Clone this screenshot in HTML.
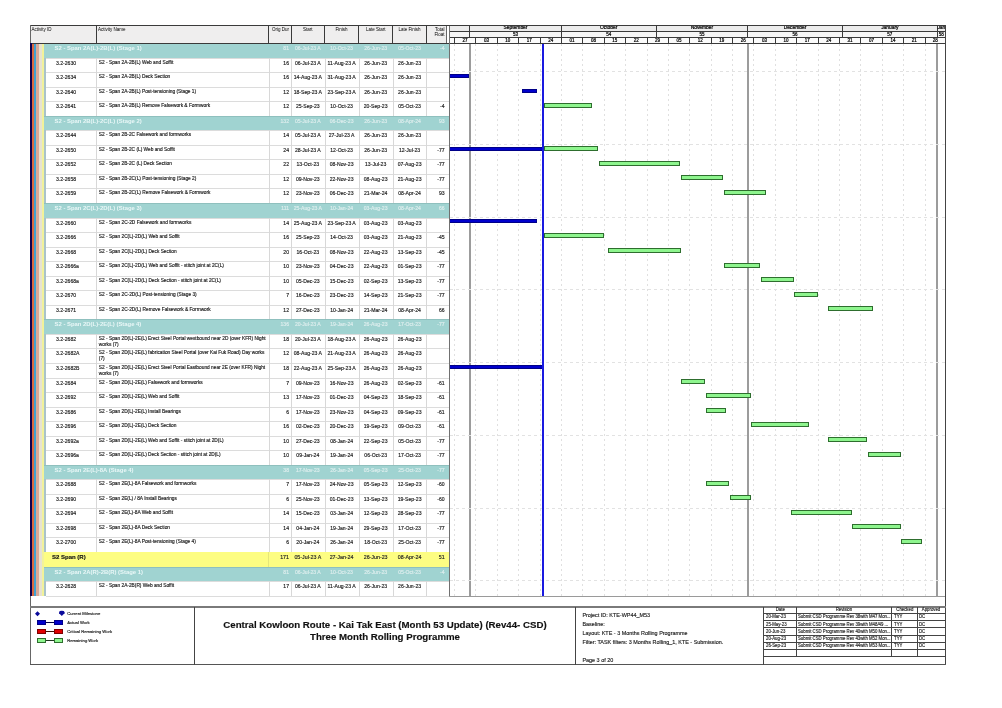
<!DOCTYPE html>
<html><head><meta charset="utf-8"><style>
html,body{margin:0;padding:0;background:#fff}
body{width:1002px;height:708px;position:relative;overflow:hidden;font-family:"Liberation Sans",sans-serif}
#w{position:absolute;left:0;top:0;width:1002px;height:708px;will-change:transform}
div{position:absolute}
.t{white-space:nowrap;-webkit-text-stroke:0.15px currentColor}
.dv{width:1px;background:repeating-linear-gradient(to bottom,#e0e0e0 0,#e0e0e0 2px,transparent 2px,transparent 5px)}
.dh{height:1px;background:repeating-linear-gradient(to right,#e2e2e2 0,#e2e2e2 3px,transparent 3px,transparent 6px)}
</style></head><body>
<div id="w"><div style="left:30.00px;top:25.00px;width:416.60px;height:18.00px;background:#efeeee"></div>
<div style="left:449.20px;top:25.00px;width:496.30px;height:6.00px;background:#ececec"></div>
<div style="left:449.20px;top:31.00px;width:496.30px;height:6.00px;background:#f6f6f6"></div>
<div style="left:449.20px;top:37.00px;width:496.30px;height:6.00px;background:#fbfbfb"></div>
<div class="t" style="left:31.50px;top:27.00px;font-size:4.5px;line-height:5.6px;color:#000;-webkit-text-stroke:0">Activity ID</div>
<div class="t" style="left:98.00px;top:27.00px;font-size:4.5px;line-height:5.6px;color:#000;-webkit-text-stroke:0">Activity Name</div>
<div class="t" style="left:268.70px;top:27.00px;width:20.30px;text-align:right;font-size:4.5px;line-height:5.6px;color:#000;-webkit-text-stroke:0">Orig Dur</div>
<div class="t" style="left:291.00px;top:27.00px;width:33.60px;text-align:center;font-size:4.5px;line-height:5.6px;color:#000;-webkit-text-stroke:0">Start</div>
<div class="t" style="left:324.60px;top:27.00px;width:34.00px;text-align:center;font-size:4.5px;line-height:5.6px;color:#000;-webkit-text-stroke:0">Finish</div>
<div class="t" style="left:358.60px;top:27.00px;width:34.10px;text-align:center;font-size:4.5px;line-height:5.6px;color:#000;-webkit-text-stroke:0">Late Start</div>
<div class="t" style="left:392.70px;top:27.00px;width:33.80px;text-align:center;font-size:4.5px;line-height:5.6px;color:#000;-webkit-text-stroke:0">Late Finish</div>
<div class="t" style="left:426.50px;top:26.60px;width:18.10px;text-align:right;font-size:4.5px;line-height:5.6px;color:#000;-webkit-text-stroke:0">Total<br>Float</div>
<div style="left:44.00px;top:43.00px;width:405.20px;height:15.00px;background:#a0d3d1;border-top:1px solid #8fc0be;box-sizing:border-box"></div>
<div class="t" style="left:54.60px;top:44.70px;font-size:5.9px;line-height:7px;font-weight:bold;color:#e9f7f7;-webkit-text-stroke:0">S2 - Span 2A(L)-2B(L) (Stage 1)</div>
<div class="t" style="left:268.70px;top:45.20px;width:20.30px;text-align:right;font-size:5.1px;line-height:6.2px;color:#deeeee">81</div>
<div class="t" style="left:291.00px;top:45.20px;width:33.60px;text-align:center;font-size:5.1px;line-height:6.2px;color:#deeeee">06-Jul-23 A</div>
<div class="t" style="left:324.60px;top:45.20px;width:34.00px;text-align:center;font-size:5.1px;line-height:6.2px;color:#deeeee">10-Oct-23</div>
<div class="t" style="left:358.60px;top:45.20px;width:34.10px;text-align:center;font-size:5.1px;line-height:6.2px;color:#deeeee">26-Jun-23</div>
<div class="t" style="left:392.70px;top:45.20px;width:33.80px;text-align:center;font-size:5.1px;line-height:6.2px;color:#deeeee">05-Oct-23</div>
<div class="t" style="left:426.50px;top:45.20px;width:18.10px;text-align:right;font-size:5.1px;line-height:6.2px;color:#deeeee">-4</div>
<div style="left:44.00px;top:58.00px;width:2.00px;height:14.00px;background:#a9c3c9"></div>
<div style="left:46.00px;top:58.00px;width:403.20px;height:14.00px;background:#fff"></div>
<div style="left:46.00px;top:58.00px;width:403.20px;height:1.00px;background:#dcdcdc"></div>
<div style="left:96.00px;top:58.00px;width:1.00px;height:14.00px;background:#d8d8d8"></div>
<div style="left:269.00px;top:58.00px;width:1.00px;height:14.00px;background:#d8d8d8"></div>
<div style="left:291.00px;top:58.00px;width:1.00px;height:14.00px;background:#d8d8d8"></div>
<div style="left:325.00px;top:58.00px;width:1.00px;height:14.00px;background:#d8d8d8"></div>
<div style="left:359.00px;top:58.00px;width:1.00px;height:14.00px;background:#d8d8d8"></div>
<div style="left:393.00px;top:58.00px;width:1.00px;height:14.00px;background:#d8d8d8"></div>
<div style="left:426.00px;top:58.00px;width:1.00px;height:14.00px;background:#d8d8d8"></div>
<div class="t" style="left:56.00px;top:59.60px;font-size:5.1px;line-height:6.2px;color:#1a1a1a">3.2-2630</div>
<div class="t" style="left:98.80px;top:59.80px;font-size:4.8px;line-height:6.2px;color:#1a1a1a">S2 - Span 2A-2B(L) Web and Soffit</div>
<div class="t" style="left:268.70px;top:59.60px;width:20.30px;text-align:right;font-size:5.1px;line-height:6.2px;color:#1a1a1a">16</div>
<div class="t" style="left:291.00px;top:59.60px;width:33.60px;text-align:center;font-size:5.1px;line-height:6.2px;color:#1a1a1a">06-Jul-23 A</div>
<div class="t" style="left:324.60px;top:59.60px;width:34.00px;text-align:center;font-size:5.1px;line-height:6.2px;color:#1a1a1a">11-Aug-23 A</div>
<div class="t" style="left:358.60px;top:59.60px;width:34.10px;text-align:center;font-size:5.1px;line-height:6.2px;color:#1a1a1a">26-Jun-23</div>
<div class="t" style="left:392.70px;top:59.60px;width:33.80px;text-align:center;font-size:5.1px;line-height:6.2px;color:#1a1a1a">26-Jun-23</div>
<div class="t" style="left:426.50px;top:59.60px;width:18.10px;text-align:right;font-size:5.1px;line-height:6.2px;color:#1a1a1a"></div>
<div style="left:44.00px;top:72.00px;width:2.00px;height:15.00px;background:#a9c3c9"></div>
<div style="left:46.00px;top:72.00px;width:403.20px;height:15.00px;background:#fff"></div>
<div style="left:46.00px;top:72.00px;width:403.20px;height:1.00px;background:#dcdcdc"></div>
<div style="left:96.00px;top:72.00px;width:1.00px;height:15.00px;background:#d8d8d8"></div>
<div style="left:269.00px;top:72.00px;width:1.00px;height:15.00px;background:#d8d8d8"></div>
<div style="left:291.00px;top:72.00px;width:1.00px;height:15.00px;background:#d8d8d8"></div>
<div style="left:325.00px;top:72.00px;width:1.00px;height:15.00px;background:#d8d8d8"></div>
<div style="left:359.00px;top:72.00px;width:1.00px;height:15.00px;background:#d8d8d8"></div>
<div style="left:393.00px;top:72.00px;width:1.00px;height:15.00px;background:#d8d8d8"></div>
<div style="left:426.00px;top:72.00px;width:1.00px;height:15.00px;background:#d8d8d8"></div>
<div class="t" style="left:56.00px;top:73.60px;font-size:5.1px;line-height:6.2px;color:#1a1a1a">3.2-2634</div>
<div class="t" style="left:98.80px;top:73.80px;font-size:4.8px;line-height:6.2px;color:#1a1a1a">S2 - Span 2A-2B(L) Deck Section</div>
<div class="t" style="left:268.70px;top:73.60px;width:20.30px;text-align:right;font-size:5.1px;line-height:6.2px;color:#1a1a1a">16</div>
<div class="t" style="left:291.00px;top:73.60px;width:33.60px;text-align:center;font-size:5.1px;line-height:6.2px;color:#1a1a1a">14-Aug-23 A</div>
<div class="t" style="left:324.60px;top:73.60px;width:34.00px;text-align:center;font-size:5.1px;line-height:6.2px;color:#1a1a1a">31-Aug-23 A</div>
<div class="t" style="left:358.60px;top:73.60px;width:34.10px;text-align:center;font-size:5.1px;line-height:6.2px;color:#1a1a1a">26-Jun-23</div>
<div class="t" style="left:392.70px;top:73.60px;width:33.80px;text-align:center;font-size:5.1px;line-height:6.2px;color:#1a1a1a">26-Jun-23</div>
<div class="t" style="left:426.50px;top:73.60px;width:18.10px;text-align:right;font-size:5.1px;line-height:6.2px;color:#1a1a1a"></div>
<div style="left:44.00px;top:87.00px;width:2.00px;height:14.00px;background:#a9c3c9"></div>
<div style="left:46.00px;top:87.00px;width:403.20px;height:14.00px;background:#fff"></div>
<div style="left:46.00px;top:87.00px;width:403.20px;height:1.00px;background:#dcdcdc"></div>
<div style="left:96.00px;top:87.00px;width:1.00px;height:14.00px;background:#d8d8d8"></div>
<div style="left:269.00px;top:87.00px;width:1.00px;height:14.00px;background:#d8d8d8"></div>
<div style="left:291.00px;top:87.00px;width:1.00px;height:14.00px;background:#d8d8d8"></div>
<div style="left:325.00px;top:87.00px;width:1.00px;height:14.00px;background:#d8d8d8"></div>
<div style="left:359.00px;top:87.00px;width:1.00px;height:14.00px;background:#d8d8d8"></div>
<div style="left:393.00px;top:87.00px;width:1.00px;height:14.00px;background:#d8d8d8"></div>
<div style="left:426.00px;top:87.00px;width:1.00px;height:14.00px;background:#d8d8d8"></div>
<div class="t" style="left:56.00px;top:88.60px;font-size:5.1px;line-height:6.2px;color:#1a1a1a">3.2-2640</div>
<div class="t" style="left:98.80px;top:88.80px;font-size:4.8px;line-height:6.2px;color:#1a1a1a">S2 - Span 2A-2B(L) Post-tensioning (Stage 1)</div>
<div class="t" style="left:268.70px;top:88.60px;width:20.30px;text-align:right;font-size:5.1px;line-height:6.2px;color:#1a1a1a">12</div>
<div class="t" style="left:291.00px;top:88.60px;width:33.60px;text-align:center;font-size:5.1px;line-height:6.2px;color:#1a1a1a">18-Sep-23 A</div>
<div class="t" style="left:324.60px;top:88.60px;width:34.00px;text-align:center;font-size:5.1px;line-height:6.2px;color:#1a1a1a">23-Sep-23 A</div>
<div class="t" style="left:358.60px;top:88.60px;width:34.10px;text-align:center;font-size:5.1px;line-height:6.2px;color:#1a1a1a">26-Jun-23</div>
<div class="t" style="left:392.70px;top:88.60px;width:33.80px;text-align:center;font-size:5.1px;line-height:6.2px;color:#1a1a1a">26-Jun-23</div>
<div class="t" style="left:426.50px;top:88.60px;width:18.10px;text-align:right;font-size:5.1px;line-height:6.2px;color:#1a1a1a"></div>
<div style="left:44.00px;top:101.00px;width:2.00px;height:15.00px;background:#a9c3c9"></div>
<div style="left:46.00px;top:101.00px;width:403.20px;height:15.00px;background:#fff"></div>
<div style="left:46.00px;top:101.00px;width:403.20px;height:1.00px;background:#dcdcdc"></div>
<div style="left:96.00px;top:101.00px;width:1.00px;height:15.00px;background:#d8d8d8"></div>
<div style="left:269.00px;top:101.00px;width:1.00px;height:15.00px;background:#d8d8d8"></div>
<div style="left:291.00px;top:101.00px;width:1.00px;height:15.00px;background:#d8d8d8"></div>
<div style="left:325.00px;top:101.00px;width:1.00px;height:15.00px;background:#d8d8d8"></div>
<div style="left:359.00px;top:101.00px;width:1.00px;height:15.00px;background:#d8d8d8"></div>
<div style="left:393.00px;top:101.00px;width:1.00px;height:15.00px;background:#d8d8d8"></div>
<div style="left:426.00px;top:101.00px;width:1.00px;height:15.00px;background:#d8d8d8"></div>
<div class="t" style="left:56.00px;top:102.60px;font-size:5.1px;line-height:6.2px;color:#1a1a1a">3.2-2641</div>
<div class="t" style="left:98.80px;top:102.80px;font-size:4.8px;line-height:6.2px;color:#1a1a1a">S2 - Span 2A-2B(L) Remove Falsework & Formwork</div>
<div class="t" style="left:268.70px;top:102.60px;width:20.30px;text-align:right;font-size:5.1px;line-height:6.2px;color:#1a1a1a">12</div>
<div class="t" style="left:291.00px;top:102.60px;width:33.60px;text-align:center;font-size:5.1px;line-height:6.2px;color:#1a1a1a">25-Sep-23</div>
<div class="t" style="left:324.60px;top:102.60px;width:34.00px;text-align:center;font-size:5.1px;line-height:6.2px;color:#1a1a1a">10-Oct-23</div>
<div class="t" style="left:358.60px;top:102.60px;width:34.10px;text-align:center;font-size:5.1px;line-height:6.2px;color:#1a1a1a">20-Sep-23</div>
<div class="t" style="left:392.70px;top:102.60px;width:33.80px;text-align:center;font-size:5.1px;line-height:6.2px;color:#1a1a1a">05-Oct-23</div>
<div class="t" style="left:426.50px;top:102.60px;width:18.10px;text-align:right;font-size:5.1px;line-height:6.2px;color:#1a1a1a">-4</div>
<div style="left:44.00px;top:116.00px;width:405.20px;height:14.00px;background:#a0d3d1;border-top:1px solid #8fc0be;box-sizing:border-box"></div>
<div class="t" style="left:54.60px;top:117.70px;font-size:5.9px;line-height:7px;font-weight:bold;color:#e9f7f7;-webkit-text-stroke:0">S2 - Span 2B(L)-2C(L) (Stage 2)</div>
<div class="t" style="left:268.70px;top:118.20px;width:20.30px;text-align:right;font-size:5.1px;line-height:6.2px;color:#deeeee">132</div>
<div class="t" style="left:291.00px;top:118.20px;width:33.60px;text-align:center;font-size:5.1px;line-height:6.2px;color:#deeeee">05-Jul-23 A</div>
<div class="t" style="left:324.60px;top:118.20px;width:34.00px;text-align:center;font-size:5.1px;line-height:6.2px;color:#deeeee">06-Dec-23</div>
<div class="t" style="left:358.60px;top:118.20px;width:34.10px;text-align:center;font-size:5.1px;line-height:6.2px;color:#deeeee">26-Jun-23</div>
<div class="t" style="left:392.70px;top:118.20px;width:33.80px;text-align:center;font-size:5.1px;line-height:6.2px;color:#deeeee">08-Apr-24</div>
<div class="t" style="left:426.50px;top:118.20px;width:18.10px;text-align:right;font-size:5.1px;line-height:6.2px;color:#deeeee">93</div>
<div style="left:44.00px;top:130.00px;width:2.00px;height:15.00px;background:#a9c3c9"></div>
<div style="left:46.00px;top:130.00px;width:403.20px;height:15.00px;background:#fff"></div>
<div style="left:46.00px;top:130.00px;width:403.20px;height:1.00px;background:#dcdcdc"></div>
<div style="left:96.00px;top:130.00px;width:1.00px;height:15.00px;background:#d8d8d8"></div>
<div style="left:269.00px;top:130.00px;width:1.00px;height:15.00px;background:#d8d8d8"></div>
<div style="left:291.00px;top:130.00px;width:1.00px;height:15.00px;background:#d8d8d8"></div>
<div style="left:325.00px;top:130.00px;width:1.00px;height:15.00px;background:#d8d8d8"></div>
<div style="left:359.00px;top:130.00px;width:1.00px;height:15.00px;background:#d8d8d8"></div>
<div style="left:393.00px;top:130.00px;width:1.00px;height:15.00px;background:#d8d8d8"></div>
<div style="left:426.00px;top:130.00px;width:1.00px;height:15.00px;background:#d8d8d8"></div>
<div class="t" style="left:56.00px;top:131.60px;font-size:5.1px;line-height:6.2px;color:#1a1a1a">3.2-2644</div>
<div class="t" style="left:98.80px;top:131.80px;font-size:4.8px;line-height:6.2px;color:#1a1a1a">S2 - Span 2B-2C Falsework and formworks</div>
<div class="t" style="left:268.70px;top:131.60px;width:20.30px;text-align:right;font-size:5.1px;line-height:6.2px;color:#1a1a1a">14</div>
<div class="t" style="left:291.00px;top:131.60px;width:33.60px;text-align:center;font-size:5.1px;line-height:6.2px;color:#1a1a1a">05-Jul-23 A</div>
<div class="t" style="left:324.60px;top:131.60px;width:34.00px;text-align:center;font-size:5.1px;line-height:6.2px;color:#1a1a1a">27-Jul-23 A</div>
<div class="t" style="left:358.60px;top:131.60px;width:34.10px;text-align:center;font-size:5.1px;line-height:6.2px;color:#1a1a1a">26-Jun-23</div>
<div class="t" style="left:392.70px;top:131.60px;width:33.80px;text-align:center;font-size:5.1px;line-height:6.2px;color:#1a1a1a">26-Jun-23</div>
<div class="t" style="left:426.50px;top:131.60px;width:18.10px;text-align:right;font-size:5.1px;line-height:6.2px;color:#1a1a1a"></div>
<div style="left:44.00px;top:145.00px;width:2.00px;height:14.00px;background:#a9c3c9"></div>
<div style="left:46.00px;top:145.00px;width:403.20px;height:14.00px;background:#fff"></div>
<div style="left:46.00px;top:145.00px;width:403.20px;height:1.00px;background:#dcdcdc"></div>
<div style="left:96.00px;top:145.00px;width:1.00px;height:14.00px;background:#d8d8d8"></div>
<div style="left:269.00px;top:145.00px;width:1.00px;height:14.00px;background:#d8d8d8"></div>
<div style="left:291.00px;top:145.00px;width:1.00px;height:14.00px;background:#d8d8d8"></div>
<div style="left:325.00px;top:145.00px;width:1.00px;height:14.00px;background:#d8d8d8"></div>
<div style="left:359.00px;top:145.00px;width:1.00px;height:14.00px;background:#d8d8d8"></div>
<div style="left:393.00px;top:145.00px;width:1.00px;height:14.00px;background:#d8d8d8"></div>
<div style="left:426.00px;top:145.00px;width:1.00px;height:14.00px;background:#d8d8d8"></div>
<div class="t" style="left:56.00px;top:146.60px;font-size:5.1px;line-height:6.2px;color:#1a1a1a">3.2-2650</div>
<div class="t" style="left:98.80px;top:146.80px;font-size:4.8px;line-height:6.2px;color:#1a1a1a">S2 - Span 2B-2C (L) Web and Soffit</div>
<div class="t" style="left:268.70px;top:146.60px;width:20.30px;text-align:right;font-size:5.1px;line-height:6.2px;color:#1a1a1a">24</div>
<div class="t" style="left:291.00px;top:146.60px;width:33.60px;text-align:center;font-size:5.1px;line-height:6.2px;color:#1a1a1a">28-Jul-23 A</div>
<div class="t" style="left:324.60px;top:146.60px;width:34.00px;text-align:center;font-size:5.1px;line-height:6.2px;color:#1a1a1a">12-Oct-23</div>
<div class="t" style="left:358.60px;top:146.60px;width:34.10px;text-align:center;font-size:5.1px;line-height:6.2px;color:#1a1a1a">26-Jun-23</div>
<div class="t" style="left:392.70px;top:146.60px;width:33.80px;text-align:center;font-size:5.1px;line-height:6.2px;color:#1a1a1a">12-Jul-23</div>
<div class="t" style="left:426.50px;top:146.60px;width:18.10px;text-align:right;font-size:5.1px;line-height:6.2px;color:#1a1a1a">-77</div>
<div style="left:44.00px;top:159.00px;width:2.00px;height:15.00px;background:#a9c3c9"></div>
<div style="left:46.00px;top:159.00px;width:403.20px;height:15.00px;background:#fff"></div>
<div style="left:46.00px;top:159.00px;width:403.20px;height:1.00px;background:#dcdcdc"></div>
<div style="left:96.00px;top:159.00px;width:1.00px;height:15.00px;background:#d8d8d8"></div>
<div style="left:269.00px;top:159.00px;width:1.00px;height:15.00px;background:#d8d8d8"></div>
<div style="left:291.00px;top:159.00px;width:1.00px;height:15.00px;background:#d8d8d8"></div>
<div style="left:325.00px;top:159.00px;width:1.00px;height:15.00px;background:#d8d8d8"></div>
<div style="left:359.00px;top:159.00px;width:1.00px;height:15.00px;background:#d8d8d8"></div>
<div style="left:393.00px;top:159.00px;width:1.00px;height:15.00px;background:#d8d8d8"></div>
<div style="left:426.00px;top:159.00px;width:1.00px;height:15.00px;background:#d8d8d8"></div>
<div class="t" style="left:56.00px;top:160.60px;font-size:5.1px;line-height:6.2px;color:#1a1a1a">3.2-2652</div>
<div class="t" style="left:98.80px;top:160.80px;font-size:4.8px;line-height:6.2px;color:#1a1a1a">S2 - Span 2B-2C (L) Deck Section</div>
<div class="t" style="left:268.70px;top:160.60px;width:20.30px;text-align:right;font-size:5.1px;line-height:6.2px;color:#1a1a1a">22</div>
<div class="t" style="left:291.00px;top:160.60px;width:33.60px;text-align:center;font-size:5.1px;line-height:6.2px;color:#1a1a1a">13-Oct-23</div>
<div class="t" style="left:324.60px;top:160.60px;width:34.00px;text-align:center;font-size:5.1px;line-height:6.2px;color:#1a1a1a">08-Nov-23</div>
<div class="t" style="left:358.60px;top:160.60px;width:34.10px;text-align:center;font-size:5.1px;line-height:6.2px;color:#1a1a1a">13-Jul-23</div>
<div class="t" style="left:392.70px;top:160.60px;width:33.80px;text-align:center;font-size:5.1px;line-height:6.2px;color:#1a1a1a">07-Aug-23</div>
<div class="t" style="left:426.50px;top:160.60px;width:18.10px;text-align:right;font-size:5.1px;line-height:6.2px;color:#1a1a1a">-77</div>
<div style="left:44.00px;top:174.00px;width:2.00px;height:14.00px;background:#a9c3c9"></div>
<div style="left:46.00px;top:174.00px;width:403.20px;height:14.00px;background:#fff"></div>
<div style="left:46.00px;top:174.00px;width:403.20px;height:1.00px;background:#dcdcdc"></div>
<div style="left:96.00px;top:174.00px;width:1.00px;height:14.00px;background:#d8d8d8"></div>
<div style="left:269.00px;top:174.00px;width:1.00px;height:14.00px;background:#d8d8d8"></div>
<div style="left:291.00px;top:174.00px;width:1.00px;height:14.00px;background:#d8d8d8"></div>
<div style="left:325.00px;top:174.00px;width:1.00px;height:14.00px;background:#d8d8d8"></div>
<div style="left:359.00px;top:174.00px;width:1.00px;height:14.00px;background:#d8d8d8"></div>
<div style="left:393.00px;top:174.00px;width:1.00px;height:14.00px;background:#d8d8d8"></div>
<div style="left:426.00px;top:174.00px;width:1.00px;height:14.00px;background:#d8d8d8"></div>
<div class="t" style="left:56.00px;top:175.60px;font-size:5.1px;line-height:6.2px;color:#1a1a1a">3.2-2658</div>
<div class="t" style="left:98.80px;top:175.80px;font-size:4.8px;line-height:6.2px;color:#1a1a1a">S2 - Span 2B-2C(L) Post-tensioning (Stage 2)</div>
<div class="t" style="left:268.70px;top:175.60px;width:20.30px;text-align:right;font-size:5.1px;line-height:6.2px;color:#1a1a1a">12</div>
<div class="t" style="left:291.00px;top:175.60px;width:33.60px;text-align:center;font-size:5.1px;line-height:6.2px;color:#1a1a1a">09-Nov-23</div>
<div class="t" style="left:324.60px;top:175.60px;width:34.00px;text-align:center;font-size:5.1px;line-height:6.2px;color:#1a1a1a">22-Nov-23</div>
<div class="t" style="left:358.60px;top:175.60px;width:34.10px;text-align:center;font-size:5.1px;line-height:6.2px;color:#1a1a1a">08-Aug-23</div>
<div class="t" style="left:392.70px;top:175.60px;width:33.80px;text-align:center;font-size:5.1px;line-height:6.2px;color:#1a1a1a">21-Aug-23</div>
<div class="t" style="left:426.50px;top:175.60px;width:18.10px;text-align:right;font-size:5.1px;line-height:6.2px;color:#1a1a1a">-77</div>
<div style="left:44.00px;top:188.00px;width:2.00px;height:15.00px;background:#a9c3c9"></div>
<div style="left:46.00px;top:188.00px;width:403.20px;height:15.00px;background:#fff"></div>
<div style="left:46.00px;top:188.00px;width:403.20px;height:1.00px;background:#dcdcdc"></div>
<div style="left:96.00px;top:188.00px;width:1.00px;height:15.00px;background:#d8d8d8"></div>
<div style="left:269.00px;top:188.00px;width:1.00px;height:15.00px;background:#d8d8d8"></div>
<div style="left:291.00px;top:188.00px;width:1.00px;height:15.00px;background:#d8d8d8"></div>
<div style="left:325.00px;top:188.00px;width:1.00px;height:15.00px;background:#d8d8d8"></div>
<div style="left:359.00px;top:188.00px;width:1.00px;height:15.00px;background:#d8d8d8"></div>
<div style="left:393.00px;top:188.00px;width:1.00px;height:15.00px;background:#d8d8d8"></div>
<div style="left:426.00px;top:188.00px;width:1.00px;height:15.00px;background:#d8d8d8"></div>
<div class="t" style="left:56.00px;top:189.60px;font-size:5.1px;line-height:6.2px;color:#1a1a1a">3.2-2659</div>
<div class="t" style="left:98.80px;top:189.80px;font-size:4.8px;line-height:6.2px;color:#1a1a1a">S2 - Span 2B-2C(L) Remove Falsework & Formwork</div>
<div class="t" style="left:268.70px;top:189.60px;width:20.30px;text-align:right;font-size:5.1px;line-height:6.2px;color:#1a1a1a">12</div>
<div class="t" style="left:291.00px;top:189.60px;width:33.60px;text-align:center;font-size:5.1px;line-height:6.2px;color:#1a1a1a">23-Nov-23</div>
<div class="t" style="left:324.60px;top:189.60px;width:34.00px;text-align:center;font-size:5.1px;line-height:6.2px;color:#1a1a1a">06-Dec-23</div>
<div class="t" style="left:358.60px;top:189.60px;width:34.10px;text-align:center;font-size:5.1px;line-height:6.2px;color:#1a1a1a">21-Mar-24</div>
<div class="t" style="left:392.70px;top:189.60px;width:33.80px;text-align:center;font-size:5.1px;line-height:6.2px;color:#1a1a1a">08-Apr-24</div>
<div class="t" style="left:426.50px;top:189.60px;width:18.10px;text-align:right;font-size:5.1px;line-height:6.2px;color:#1a1a1a">93</div>
<div style="left:44.00px;top:203.00px;width:405.20px;height:15.00px;background:#a0d3d1;border-top:1px solid #8fc0be;box-sizing:border-box"></div>
<div class="t" style="left:54.60px;top:204.70px;font-size:5.9px;line-height:7px;font-weight:bold;color:#e9f7f7;-webkit-text-stroke:0">S2 - Span 2C(L)-2D(L) (Stage 3)</div>
<div class="t" style="left:268.70px;top:205.20px;width:20.30px;text-align:right;font-size:5.1px;line-height:6.2px;color:#deeeee">111</div>
<div class="t" style="left:291.00px;top:205.20px;width:33.60px;text-align:center;font-size:5.1px;line-height:6.2px;color:#deeeee">25-Aug-23 A</div>
<div class="t" style="left:324.60px;top:205.20px;width:34.00px;text-align:center;font-size:5.1px;line-height:6.2px;color:#deeeee">10-Jan-24</div>
<div class="t" style="left:358.60px;top:205.20px;width:34.10px;text-align:center;font-size:5.1px;line-height:6.2px;color:#deeeee">03-Aug-23</div>
<div class="t" style="left:392.70px;top:205.20px;width:33.80px;text-align:center;font-size:5.1px;line-height:6.2px;color:#deeeee">08-Apr-24</div>
<div class="t" style="left:426.50px;top:205.20px;width:18.10px;text-align:right;font-size:5.1px;line-height:6.2px;color:#deeeee">66</div>
<div style="left:44.00px;top:218.00px;width:2.00px;height:14.00px;background:#a9c3c9"></div>
<div style="left:46.00px;top:218.00px;width:403.20px;height:14.00px;background:#fff"></div>
<div style="left:46.00px;top:218.00px;width:403.20px;height:1.00px;background:#dcdcdc"></div>
<div style="left:96.00px;top:218.00px;width:1.00px;height:14.00px;background:#d8d8d8"></div>
<div style="left:269.00px;top:218.00px;width:1.00px;height:14.00px;background:#d8d8d8"></div>
<div style="left:291.00px;top:218.00px;width:1.00px;height:14.00px;background:#d8d8d8"></div>
<div style="left:325.00px;top:218.00px;width:1.00px;height:14.00px;background:#d8d8d8"></div>
<div style="left:359.00px;top:218.00px;width:1.00px;height:14.00px;background:#d8d8d8"></div>
<div style="left:393.00px;top:218.00px;width:1.00px;height:14.00px;background:#d8d8d8"></div>
<div style="left:426.00px;top:218.00px;width:1.00px;height:14.00px;background:#d8d8d8"></div>
<div class="t" style="left:56.00px;top:219.60px;font-size:5.1px;line-height:6.2px;color:#1a1a1a">3.2-2660</div>
<div class="t" style="left:98.80px;top:219.80px;font-size:4.8px;line-height:6.2px;color:#1a1a1a">S2 - Span 2C-2D Falsework and formworks</div>
<div class="t" style="left:268.70px;top:219.60px;width:20.30px;text-align:right;font-size:5.1px;line-height:6.2px;color:#1a1a1a">14</div>
<div class="t" style="left:291.00px;top:219.60px;width:33.60px;text-align:center;font-size:5.1px;line-height:6.2px;color:#1a1a1a">25-Aug-23 A</div>
<div class="t" style="left:324.60px;top:219.60px;width:34.00px;text-align:center;font-size:5.1px;line-height:6.2px;color:#1a1a1a">23-Sep-23 A</div>
<div class="t" style="left:358.60px;top:219.60px;width:34.10px;text-align:center;font-size:5.1px;line-height:6.2px;color:#1a1a1a">03-Aug-23</div>
<div class="t" style="left:392.70px;top:219.60px;width:33.80px;text-align:center;font-size:5.1px;line-height:6.2px;color:#1a1a1a">03-Aug-23</div>
<div class="t" style="left:426.50px;top:219.60px;width:18.10px;text-align:right;font-size:5.1px;line-height:6.2px;color:#1a1a1a"></div>
<div style="left:44.00px;top:232.00px;width:2.00px;height:15.00px;background:#a9c3c9"></div>
<div style="left:46.00px;top:232.00px;width:403.20px;height:15.00px;background:#fff"></div>
<div style="left:46.00px;top:232.00px;width:403.20px;height:1.00px;background:#dcdcdc"></div>
<div style="left:96.00px;top:232.00px;width:1.00px;height:15.00px;background:#d8d8d8"></div>
<div style="left:269.00px;top:232.00px;width:1.00px;height:15.00px;background:#d8d8d8"></div>
<div style="left:291.00px;top:232.00px;width:1.00px;height:15.00px;background:#d8d8d8"></div>
<div style="left:325.00px;top:232.00px;width:1.00px;height:15.00px;background:#d8d8d8"></div>
<div style="left:359.00px;top:232.00px;width:1.00px;height:15.00px;background:#d8d8d8"></div>
<div style="left:393.00px;top:232.00px;width:1.00px;height:15.00px;background:#d8d8d8"></div>
<div style="left:426.00px;top:232.00px;width:1.00px;height:15.00px;background:#d8d8d8"></div>
<div class="t" style="left:56.00px;top:233.60px;font-size:5.1px;line-height:6.2px;color:#1a1a1a">3.2-2666</div>
<div class="t" style="left:98.80px;top:233.80px;font-size:4.8px;line-height:6.2px;color:#1a1a1a">S2 - Span 2C(L)-2D(L) Web and Soffit</div>
<div class="t" style="left:268.70px;top:233.60px;width:20.30px;text-align:right;font-size:5.1px;line-height:6.2px;color:#1a1a1a">16</div>
<div class="t" style="left:291.00px;top:233.60px;width:33.60px;text-align:center;font-size:5.1px;line-height:6.2px;color:#1a1a1a">25-Sep-23</div>
<div class="t" style="left:324.60px;top:233.60px;width:34.00px;text-align:center;font-size:5.1px;line-height:6.2px;color:#1a1a1a">14-Oct-23</div>
<div class="t" style="left:358.60px;top:233.60px;width:34.10px;text-align:center;font-size:5.1px;line-height:6.2px;color:#1a1a1a">03-Aug-23</div>
<div class="t" style="left:392.70px;top:233.60px;width:33.80px;text-align:center;font-size:5.1px;line-height:6.2px;color:#1a1a1a">21-Aug-23</div>
<div class="t" style="left:426.50px;top:233.60px;width:18.10px;text-align:right;font-size:5.1px;line-height:6.2px;color:#1a1a1a">-45</div>
<div style="left:44.00px;top:247.00px;width:2.00px;height:14.00px;background:#a9c3c9"></div>
<div style="left:46.00px;top:247.00px;width:403.20px;height:14.00px;background:#fff"></div>
<div style="left:46.00px;top:247.00px;width:403.20px;height:1.00px;background:#dcdcdc"></div>
<div style="left:96.00px;top:247.00px;width:1.00px;height:14.00px;background:#d8d8d8"></div>
<div style="left:269.00px;top:247.00px;width:1.00px;height:14.00px;background:#d8d8d8"></div>
<div style="left:291.00px;top:247.00px;width:1.00px;height:14.00px;background:#d8d8d8"></div>
<div style="left:325.00px;top:247.00px;width:1.00px;height:14.00px;background:#d8d8d8"></div>
<div style="left:359.00px;top:247.00px;width:1.00px;height:14.00px;background:#d8d8d8"></div>
<div style="left:393.00px;top:247.00px;width:1.00px;height:14.00px;background:#d8d8d8"></div>
<div style="left:426.00px;top:247.00px;width:1.00px;height:14.00px;background:#d8d8d8"></div>
<div class="t" style="left:56.00px;top:248.60px;font-size:5.1px;line-height:6.2px;color:#1a1a1a">3.2-2668</div>
<div class="t" style="left:98.80px;top:248.80px;font-size:4.8px;line-height:6.2px;color:#1a1a1a">S2 - Span 2C(L)-2D(L) Deck Section</div>
<div class="t" style="left:268.70px;top:248.60px;width:20.30px;text-align:right;font-size:5.1px;line-height:6.2px;color:#1a1a1a">20</div>
<div class="t" style="left:291.00px;top:248.60px;width:33.60px;text-align:center;font-size:5.1px;line-height:6.2px;color:#1a1a1a">16-Oct-23</div>
<div class="t" style="left:324.60px;top:248.60px;width:34.00px;text-align:center;font-size:5.1px;line-height:6.2px;color:#1a1a1a">08-Nov-23</div>
<div class="t" style="left:358.60px;top:248.60px;width:34.10px;text-align:center;font-size:5.1px;line-height:6.2px;color:#1a1a1a">22-Aug-23</div>
<div class="t" style="left:392.70px;top:248.60px;width:33.80px;text-align:center;font-size:5.1px;line-height:6.2px;color:#1a1a1a">13-Sep-23</div>
<div class="t" style="left:426.50px;top:248.60px;width:18.10px;text-align:right;font-size:5.1px;line-height:6.2px;color:#1a1a1a">-45</div>
<div style="left:44.00px;top:261.00px;width:2.00px;height:15.00px;background:#a9c3c9"></div>
<div style="left:46.00px;top:261.00px;width:403.20px;height:15.00px;background:#fff"></div>
<div style="left:46.00px;top:261.00px;width:403.20px;height:1.00px;background:#dcdcdc"></div>
<div style="left:96.00px;top:261.00px;width:1.00px;height:15.00px;background:#d8d8d8"></div>
<div style="left:269.00px;top:261.00px;width:1.00px;height:15.00px;background:#d8d8d8"></div>
<div style="left:291.00px;top:261.00px;width:1.00px;height:15.00px;background:#d8d8d8"></div>
<div style="left:325.00px;top:261.00px;width:1.00px;height:15.00px;background:#d8d8d8"></div>
<div style="left:359.00px;top:261.00px;width:1.00px;height:15.00px;background:#d8d8d8"></div>
<div style="left:393.00px;top:261.00px;width:1.00px;height:15.00px;background:#d8d8d8"></div>
<div style="left:426.00px;top:261.00px;width:1.00px;height:15.00px;background:#d8d8d8"></div>
<div class="t" style="left:56.00px;top:262.60px;font-size:5.1px;line-height:6.2px;color:#1a1a1a">3.2-2666a</div>
<div class="t" style="left:98.80px;top:262.80px;font-size:4.8px;line-height:6.2px;color:#1a1a1a">S2 - Span 2C(L)-2D(L) Web and Soffit - stitch joint at 2C(L)</div>
<div class="t" style="left:268.70px;top:262.60px;width:20.30px;text-align:right;font-size:5.1px;line-height:6.2px;color:#1a1a1a">10</div>
<div class="t" style="left:291.00px;top:262.60px;width:33.60px;text-align:center;font-size:5.1px;line-height:6.2px;color:#1a1a1a">23-Nov-23</div>
<div class="t" style="left:324.60px;top:262.60px;width:34.00px;text-align:center;font-size:5.1px;line-height:6.2px;color:#1a1a1a">04-Dec-23</div>
<div class="t" style="left:358.60px;top:262.60px;width:34.10px;text-align:center;font-size:5.1px;line-height:6.2px;color:#1a1a1a">22-Aug-23</div>
<div class="t" style="left:392.70px;top:262.60px;width:33.80px;text-align:center;font-size:5.1px;line-height:6.2px;color:#1a1a1a">01-Sep-23</div>
<div class="t" style="left:426.50px;top:262.60px;width:18.10px;text-align:right;font-size:5.1px;line-height:6.2px;color:#1a1a1a">-77</div>
<div style="left:44.00px;top:276.00px;width:2.00px;height:14.00px;background:#a9c3c9"></div>
<div style="left:46.00px;top:276.00px;width:403.20px;height:14.00px;background:#fff"></div>
<div style="left:46.00px;top:276.00px;width:403.20px;height:1.00px;background:#dcdcdc"></div>
<div style="left:96.00px;top:276.00px;width:1.00px;height:14.00px;background:#d8d8d8"></div>
<div style="left:269.00px;top:276.00px;width:1.00px;height:14.00px;background:#d8d8d8"></div>
<div style="left:291.00px;top:276.00px;width:1.00px;height:14.00px;background:#d8d8d8"></div>
<div style="left:325.00px;top:276.00px;width:1.00px;height:14.00px;background:#d8d8d8"></div>
<div style="left:359.00px;top:276.00px;width:1.00px;height:14.00px;background:#d8d8d8"></div>
<div style="left:393.00px;top:276.00px;width:1.00px;height:14.00px;background:#d8d8d8"></div>
<div style="left:426.00px;top:276.00px;width:1.00px;height:14.00px;background:#d8d8d8"></div>
<div class="t" style="left:56.00px;top:277.60px;font-size:5.1px;line-height:6.2px;color:#1a1a1a">3.2-2668a</div>
<div class="t" style="left:98.80px;top:277.80px;font-size:4.8px;line-height:6.2px;color:#1a1a1a">S2 - Span 2C(L)-2D(L) Deck Section - stitch joint at 2C(L)</div>
<div class="t" style="left:268.70px;top:277.60px;width:20.30px;text-align:right;font-size:5.1px;line-height:6.2px;color:#1a1a1a">10</div>
<div class="t" style="left:291.00px;top:277.60px;width:33.60px;text-align:center;font-size:5.1px;line-height:6.2px;color:#1a1a1a">05-Dec-23</div>
<div class="t" style="left:324.60px;top:277.60px;width:34.00px;text-align:center;font-size:5.1px;line-height:6.2px;color:#1a1a1a">15-Dec-23</div>
<div class="t" style="left:358.60px;top:277.60px;width:34.10px;text-align:center;font-size:5.1px;line-height:6.2px;color:#1a1a1a">02-Sep-23</div>
<div class="t" style="left:392.70px;top:277.60px;width:33.80px;text-align:center;font-size:5.1px;line-height:6.2px;color:#1a1a1a">13-Sep-23</div>
<div class="t" style="left:426.50px;top:277.60px;width:18.10px;text-align:right;font-size:5.1px;line-height:6.2px;color:#1a1a1a">-77</div>
<div style="left:44.00px;top:290.00px;width:2.00px;height:15.00px;background:#a9c3c9"></div>
<div style="left:46.00px;top:290.00px;width:403.20px;height:15.00px;background:#fff"></div>
<div style="left:46.00px;top:290.00px;width:403.20px;height:1.00px;background:#dcdcdc"></div>
<div style="left:96.00px;top:290.00px;width:1.00px;height:15.00px;background:#d8d8d8"></div>
<div style="left:269.00px;top:290.00px;width:1.00px;height:15.00px;background:#d8d8d8"></div>
<div style="left:291.00px;top:290.00px;width:1.00px;height:15.00px;background:#d8d8d8"></div>
<div style="left:325.00px;top:290.00px;width:1.00px;height:15.00px;background:#d8d8d8"></div>
<div style="left:359.00px;top:290.00px;width:1.00px;height:15.00px;background:#d8d8d8"></div>
<div style="left:393.00px;top:290.00px;width:1.00px;height:15.00px;background:#d8d8d8"></div>
<div style="left:426.00px;top:290.00px;width:1.00px;height:15.00px;background:#d8d8d8"></div>
<div class="t" style="left:56.00px;top:291.60px;font-size:5.1px;line-height:6.2px;color:#1a1a1a">3.2-2670</div>
<div class="t" style="left:98.80px;top:291.80px;font-size:4.8px;line-height:6.2px;color:#1a1a1a">S2 - Span 2C-2D(L) Post-tensioning (Stage 3)</div>
<div class="t" style="left:268.70px;top:291.60px;width:20.30px;text-align:right;font-size:5.1px;line-height:6.2px;color:#1a1a1a">7</div>
<div class="t" style="left:291.00px;top:291.60px;width:33.60px;text-align:center;font-size:5.1px;line-height:6.2px;color:#1a1a1a">16-Dec-23</div>
<div class="t" style="left:324.60px;top:291.60px;width:34.00px;text-align:center;font-size:5.1px;line-height:6.2px;color:#1a1a1a">23-Dec-23</div>
<div class="t" style="left:358.60px;top:291.60px;width:34.10px;text-align:center;font-size:5.1px;line-height:6.2px;color:#1a1a1a">14-Sep-23</div>
<div class="t" style="left:392.70px;top:291.60px;width:33.80px;text-align:center;font-size:5.1px;line-height:6.2px;color:#1a1a1a">21-Sep-23</div>
<div class="t" style="left:426.50px;top:291.60px;width:18.10px;text-align:right;font-size:5.1px;line-height:6.2px;color:#1a1a1a">-77</div>
<div style="left:44.00px;top:305.00px;width:2.00px;height:14.00px;background:#a9c3c9"></div>
<div style="left:46.00px;top:305.00px;width:403.20px;height:14.00px;background:#fff"></div>
<div style="left:46.00px;top:305.00px;width:403.20px;height:1.00px;background:#dcdcdc"></div>
<div style="left:96.00px;top:305.00px;width:1.00px;height:14.00px;background:#d8d8d8"></div>
<div style="left:269.00px;top:305.00px;width:1.00px;height:14.00px;background:#d8d8d8"></div>
<div style="left:291.00px;top:305.00px;width:1.00px;height:14.00px;background:#d8d8d8"></div>
<div style="left:325.00px;top:305.00px;width:1.00px;height:14.00px;background:#d8d8d8"></div>
<div style="left:359.00px;top:305.00px;width:1.00px;height:14.00px;background:#d8d8d8"></div>
<div style="left:393.00px;top:305.00px;width:1.00px;height:14.00px;background:#d8d8d8"></div>
<div style="left:426.00px;top:305.00px;width:1.00px;height:14.00px;background:#d8d8d8"></div>
<div class="t" style="left:56.00px;top:306.60px;font-size:5.1px;line-height:6.2px;color:#1a1a1a">3.2-2671</div>
<div class="t" style="left:98.80px;top:306.80px;font-size:4.8px;line-height:6.2px;color:#1a1a1a">S2 - Span 2C-2D(L) Remove Falsework & Formwork</div>
<div class="t" style="left:268.70px;top:306.60px;width:20.30px;text-align:right;font-size:5.1px;line-height:6.2px;color:#1a1a1a">12</div>
<div class="t" style="left:291.00px;top:306.60px;width:33.60px;text-align:center;font-size:5.1px;line-height:6.2px;color:#1a1a1a">27-Dec-23</div>
<div class="t" style="left:324.60px;top:306.60px;width:34.00px;text-align:center;font-size:5.1px;line-height:6.2px;color:#1a1a1a">10-Jan-24</div>
<div class="t" style="left:358.60px;top:306.60px;width:34.10px;text-align:center;font-size:5.1px;line-height:6.2px;color:#1a1a1a">21-Mar-24</div>
<div class="t" style="left:392.70px;top:306.60px;width:33.80px;text-align:center;font-size:5.1px;line-height:6.2px;color:#1a1a1a">08-Apr-24</div>
<div class="t" style="left:426.50px;top:306.60px;width:18.10px;text-align:right;font-size:5.1px;line-height:6.2px;color:#1a1a1a">66</div>
<div style="left:44.00px;top:319.00px;width:405.20px;height:15.00px;background:#a0d3d1;border-top:1px solid #8fc0be;box-sizing:border-box"></div>
<div class="t" style="left:54.60px;top:320.70px;font-size:5.9px;line-height:7px;font-weight:bold;color:#e9f7f7;-webkit-text-stroke:0">S2 - Span 2D(L)-2E(L) (Stage 4)</div>
<div class="t" style="left:268.70px;top:321.20px;width:20.30px;text-align:right;font-size:5.1px;line-height:6.2px;color:#deeeee">136</div>
<div class="t" style="left:291.00px;top:321.20px;width:33.60px;text-align:center;font-size:5.1px;line-height:6.2px;color:#deeeee">20-Jul-23 A</div>
<div class="t" style="left:324.60px;top:321.20px;width:34.00px;text-align:center;font-size:5.1px;line-height:6.2px;color:#deeeee">19-Jan-24</div>
<div class="t" style="left:358.60px;top:321.20px;width:34.10px;text-align:center;font-size:5.1px;line-height:6.2px;color:#deeeee">26-Aug-23</div>
<div class="t" style="left:392.70px;top:321.20px;width:33.80px;text-align:center;font-size:5.1px;line-height:6.2px;color:#deeeee">17-Oct-23</div>
<div class="t" style="left:426.50px;top:321.20px;width:18.10px;text-align:right;font-size:5.1px;line-height:6.2px;color:#deeeee">-77</div>
<div style="left:44.00px;top:334.00px;width:2.00px;height:14.00px;background:#a9c3c9"></div>
<div style="left:46.00px;top:334.00px;width:403.20px;height:14.00px;background:#fff"></div>
<div style="left:46.00px;top:334.00px;width:403.20px;height:1.00px;background:#dcdcdc"></div>
<div style="left:96.00px;top:334.00px;width:1.00px;height:14.00px;background:#d8d8d8"></div>
<div style="left:269.00px;top:334.00px;width:1.00px;height:14.00px;background:#d8d8d8"></div>
<div style="left:291.00px;top:334.00px;width:1.00px;height:14.00px;background:#d8d8d8"></div>
<div style="left:325.00px;top:334.00px;width:1.00px;height:14.00px;background:#d8d8d8"></div>
<div style="left:359.00px;top:334.00px;width:1.00px;height:14.00px;background:#d8d8d8"></div>
<div style="left:393.00px;top:334.00px;width:1.00px;height:14.00px;background:#d8d8d8"></div>
<div style="left:426.00px;top:334.00px;width:1.00px;height:14.00px;background:#d8d8d8"></div>
<div class="t" style="left:56.00px;top:335.60px;font-size:5.1px;line-height:6.2px;color:#1a1a1a">3.2-2682</div>
<div class="t" style="left:98.80px;top:335.80px;font-size:4.8px;line-height:6.2px;color:#1a1a1a">S2 - Span 2D(L)-2E(L) Erect Steel Portal westbound near 2D (over KFR) Night<br>works (7)</div>
<div class="t" style="left:268.70px;top:335.60px;width:20.30px;text-align:right;font-size:5.1px;line-height:6.2px;color:#1a1a1a">18</div>
<div class="t" style="left:291.00px;top:335.60px;width:33.60px;text-align:center;font-size:5.1px;line-height:6.2px;color:#1a1a1a">20-Jul-23 A</div>
<div class="t" style="left:324.60px;top:335.60px;width:34.00px;text-align:center;font-size:5.1px;line-height:6.2px;color:#1a1a1a">18-Aug-23 A</div>
<div class="t" style="left:358.60px;top:335.60px;width:34.10px;text-align:center;font-size:5.1px;line-height:6.2px;color:#1a1a1a">26-Aug-23</div>
<div class="t" style="left:392.70px;top:335.60px;width:33.80px;text-align:center;font-size:5.1px;line-height:6.2px;color:#1a1a1a">26-Aug-23</div>
<div class="t" style="left:426.50px;top:335.60px;width:18.10px;text-align:right;font-size:5.1px;line-height:6.2px;color:#1a1a1a"></div>
<div style="left:44.00px;top:348.00px;width:2.00px;height:15.00px;background:#a9c3c9"></div>
<div style="left:46.00px;top:348.00px;width:403.20px;height:15.00px;background:#fff"></div>
<div style="left:46.00px;top:348.00px;width:403.20px;height:1.00px;background:#dcdcdc"></div>
<div style="left:96.00px;top:348.00px;width:1.00px;height:15.00px;background:#d8d8d8"></div>
<div style="left:269.00px;top:348.00px;width:1.00px;height:15.00px;background:#d8d8d8"></div>
<div style="left:291.00px;top:348.00px;width:1.00px;height:15.00px;background:#d8d8d8"></div>
<div style="left:325.00px;top:348.00px;width:1.00px;height:15.00px;background:#d8d8d8"></div>
<div style="left:359.00px;top:348.00px;width:1.00px;height:15.00px;background:#d8d8d8"></div>
<div style="left:393.00px;top:348.00px;width:1.00px;height:15.00px;background:#d8d8d8"></div>
<div style="left:426.00px;top:348.00px;width:1.00px;height:15.00px;background:#d8d8d8"></div>
<div class="t" style="left:56.00px;top:349.60px;font-size:5.1px;line-height:6.2px;color:#1a1a1a">3.2-2682A</div>
<div class="t" style="left:98.80px;top:349.80px;font-size:4.8px;line-height:6.2px;color:#1a1a1a">S2 - Span 2D(L)-2E(L) fabrication Steel Portal (over Kai Fuk Road) Day works<br>(7)</div>
<div class="t" style="left:268.70px;top:349.60px;width:20.30px;text-align:right;font-size:5.1px;line-height:6.2px;color:#1a1a1a">12</div>
<div class="t" style="left:291.00px;top:349.60px;width:33.60px;text-align:center;font-size:5.1px;line-height:6.2px;color:#1a1a1a">08-Aug-23 A</div>
<div class="t" style="left:324.60px;top:349.60px;width:34.00px;text-align:center;font-size:5.1px;line-height:6.2px;color:#1a1a1a">21-Aug-23 A</div>
<div class="t" style="left:358.60px;top:349.60px;width:34.10px;text-align:center;font-size:5.1px;line-height:6.2px;color:#1a1a1a">26-Aug-23</div>
<div class="t" style="left:392.70px;top:349.60px;width:33.80px;text-align:center;font-size:5.1px;line-height:6.2px;color:#1a1a1a">26-Aug-23</div>
<div class="t" style="left:426.50px;top:349.60px;width:18.10px;text-align:right;font-size:5.1px;line-height:6.2px;color:#1a1a1a"></div>
<div style="left:44.00px;top:363.00px;width:2.00px;height:15.00px;background:#a9c3c9"></div>
<div style="left:46.00px;top:363.00px;width:403.20px;height:15.00px;background:#fff"></div>
<div style="left:46.00px;top:363.00px;width:403.20px;height:1.00px;background:#dcdcdc"></div>
<div style="left:96.00px;top:363.00px;width:1.00px;height:15.00px;background:#d8d8d8"></div>
<div style="left:269.00px;top:363.00px;width:1.00px;height:15.00px;background:#d8d8d8"></div>
<div style="left:291.00px;top:363.00px;width:1.00px;height:15.00px;background:#d8d8d8"></div>
<div style="left:325.00px;top:363.00px;width:1.00px;height:15.00px;background:#d8d8d8"></div>
<div style="left:359.00px;top:363.00px;width:1.00px;height:15.00px;background:#d8d8d8"></div>
<div style="left:393.00px;top:363.00px;width:1.00px;height:15.00px;background:#d8d8d8"></div>
<div style="left:426.00px;top:363.00px;width:1.00px;height:15.00px;background:#d8d8d8"></div>
<div class="t" style="left:56.00px;top:364.60px;font-size:5.1px;line-height:6.2px;color:#1a1a1a">3.2-2682B</div>
<div class="t" style="left:98.80px;top:364.80px;font-size:4.8px;line-height:6.2px;color:#1a1a1a">S2 - Span 2D(L)-2E(L) Erect Steel Portal Eastbound near 2E (over KFR) Night<br>works (7)</div>
<div class="t" style="left:268.70px;top:364.60px;width:20.30px;text-align:right;font-size:5.1px;line-height:6.2px;color:#1a1a1a">18</div>
<div class="t" style="left:291.00px;top:364.60px;width:33.60px;text-align:center;font-size:5.1px;line-height:6.2px;color:#1a1a1a">22-Aug-23 A</div>
<div class="t" style="left:324.60px;top:364.60px;width:34.00px;text-align:center;font-size:5.1px;line-height:6.2px;color:#1a1a1a">25-Sep-23 A</div>
<div class="t" style="left:358.60px;top:364.60px;width:34.10px;text-align:center;font-size:5.1px;line-height:6.2px;color:#1a1a1a">26-Aug-23</div>
<div class="t" style="left:392.70px;top:364.60px;width:33.80px;text-align:center;font-size:5.1px;line-height:6.2px;color:#1a1a1a">26-Aug-23</div>
<div class="t" style="left:426.50px;top:364.60px;width:18.10px;text-align:right;font-size:5.1px;line-height:6.2px;color:#1a1a1a"></div>
<div style="left:44.00px;top:378.00px;width:2.00px;height:14.00px;background:#a9c3c9"></div>
<div style="left:46.00px;top:378.00px;width:403.20px;height:14.00px;background:#fff"></div>
<div style="left:46.00px;top:378.00px;width:403.20px;height:1.00px;background:#dcdcdc"></div>
<div style="left:96.00px;top:378.00px;width:1.00px;height:14.00px;background:#d8d8d8"></div>
<div style="left:269.00px;top:378.00px;width:1.00px;height:14.00px;background:#d8d8d8"></div>
<div style="left:291.00px;top:378.00px;width:1.00px;height:14.00px;background:#d8d8d8"></div>
<div style="left:325.00px;top:378.00px;width:1.00px;height:14.00px;background:#d8d8d8"></div>
<div style="left:359.00px;top:378.00px;width:1.00px;height:14.00px;background:#d8d8d8"></div>
<div style="left:393.00px;top:378.00px;width:1.00px;height:14.00px;background:#d8d8d8"></div>
<div style="left:426.00px;top:378.00px;width:1.00px;height:14.00px;background:#d8d8d8"></div>
<div class="t" style="left:56.00px;top:379.60px;font-size:5.1px;line-height:6.2px;color:#1a1a1a">3.2-2684</div>
<div class="t" style="left:98.80px;top:379.80px;font-size:4.8px;line-height:6.2px;color:#1a1a1a">S2 - Span 2D(L)-2E(L) Falsework and formworks</div>
<div class="t" style="left:268.70px;top:379.60px;width:20.30px;text-align:right;font-size:5.1px;line-height:6.2px;color:#1a1a1a">7</div>
<div class="t" style="left:291.00px;top:379.60px;width:33.60px;text-align:center;font-size:5.1px;line-height:6.2px;color:#1a1a1a">09-Nov-23</div>
<div class="t" style="left:324.60px;top:379.60px;width:34.00px;text-align:center;font-size:5.1px;line-height:6.2px;color:#1a1a1a">16-Nov-23</div>
<div class="t" style="left:358.60px;top:379.60px;width:34.10px;text-align:center;font-size:5.1px;line-height:6.2px;color:#1a1a1a">26-Aug-23</div>
<div class="t" style="left:392.70px;top:379.60px;width:33.80px;text-align:center;font-size:5.1px;line-height:6.2px;color:#1a1a1a">02-Sep-23</div>
<div class="t" style="left:426.50px;top:379.60px;width:18.10px;text-align:right;font-size:5.1px;line-height:6.2px;color:#1a1a1a">-61</div>
<div style="left:44.00px;top:392.00px;width:2.00px;height:15.00px;background:#a9c3c9"></div>
<div style="left:46.00px;top:392.00px;width:403.20px;height:15.00px;background:#fff"></div>
<div style="left:46.00px;top:392.00px;width:403.20px;height:1.00px;background:#dcdcdc"></div>
<div style="left:96.00px;top:392.00px;width:1.00px;height:15.00px;background:#d8d8d8"></div>
<div style="left:269.00px;top:392.00px;width:1.00px;height:15.00px;background:#d8d8d8"></div>
<div style="left:291.00px;top:392.00px;width:1.00px;height:15.00px;background:#d8d8d8"></div>
<div style="left:325.00px;top:392.00px;width:1.00px;height:15.00px;background:#d8d8d8"></div>
<div style="left:359.00px;top:392.00px;width:1.00px;height:15.00px;background:#d8d8d8"></div>
<div style="left:393.00px;top:392.00px;width:1.00px;height:15.00px;background:#d8d8d8"></div>
<div style="left:426.00px;top:392.00px;width:1.00px;height:15.00px;background:#d8d8d8"></div>
<div class="t" style="left:56.00px;top:393.60px;font-size:5.1px;line-height:6.2px;color:#1a1a1a">3.2-2692</div>
<div class="t" style="left:98.80px;top:393.80px;font-size:4.8px;line-height:6.2px;color:#1a1a1a">S2 - Span 2D(L)-2E(L) Web and Soffit</div>
<div class="t" style="left:268.70px;top:393.60px;width:20.30px;text-align:right;font-size:5.1px;line-height:6.2px;color:#1a1a1a">13</div>
<div class="t" style="left:291.00px;top:393.60px;width:33.60px;text-align:center;font-size:5.1px;line-height:6.2px;color:#1a1a1a">17-Nov-23</div>
<div class="t" style="left:324.60px;top:393.60px;width:34.00px;text-align:center;font-size:5.1px;line-height:6.2px;color:#1a1a1a">01-Dec-23</div>
<div class="t" style="left:358.60px;top:393.60px;width:34.10px;text-align:center;font-size:5.1px;line-height:6.2px;color:#1a1a1a">04-Sep-23</div>
<div class="t" style="left:392.70px;top:393.60px;width:33.80px;text-align:center;font-size:5.1px;line-height:6.2px;color:#1a1a1a">18-Sep-23</div>
<div class="t" style="left:426.50px;top:393.60px;width:18.10px;text-align:right;font-size:5.1px;line-height:6.2px;color:#1a1a1a">-61</div>
<div style="left:44.00px;top:407.00px;width:2.00px;height:14.00px;background:#a9c3c9"></div>
<div style="left:46.00px;top:407.00px;width:403.20px;height:14.00px;background:#fff"></div>
<div style="left:46.00px;top:407.00px;width:403.20px;height:1.00px;background:#dcdcdc"></div>
<div style="left:96.00px;top:407.00px;width:1.00px;height:14.00px;background:#d8d8d8"></div>
<div style="left:269.00px;top:407.00px;width:1.00px;height:14.00px;background:#d8d8d8"></div>
<div style="left:291.00px;top:407.00px;width:1.00px;height:14.00px;background:#d8d8d8"></div>
<div style="left:325.00px;top:407.00px;width:1.00px;height:14.00px;background:#d8d8d8"></div>
<div style="left:359.00px;top:407.00px;width:1.00px;height:14.00px;background:#d8d8d8"></div>
<div style="left:393.00px;top:407.00px;width:1.00px;height:14.00px;background:#d8d8d8"></div>
<div style="left:426.00px;top:407.00px;width:1.00px;height:14.00px;background:#d8d8d8"></div>
<div class="t" style="left:56.00px;top:408.60px;font-size:5.1px;line-height:6.2px;color:#1a1a1a">3.2-2686</div>
<div class="t" style="left:98.80px;top:408.80px;font-size:4.8px;line-height:6.2px;color:#1a1a1a">S2 - Span 2D(L)-2E(L) Install Bearings</div>
<div class="t" style="left:268.70px;top:408.60px;width:20.30px;text-align:right;font-size:5.1px;line-height:6.2px;color:#1a1a1a">6</div>
<div class="t" style="left:291.00px;top:408.60px;width:33.60px;text-align:center;font-size:5.1px;line-height:6.2px;color:#1a1a1a">17-Nov-23</div>
<div class="t" style="left:324.60px;top:408.60px;width:34.00px;text-align:center;font-size:5.1px;line-height:6.2px;color:#1a1a1a">23-Nov-23</div>
<div class="t" style="left:358.60px;top:408.60px;width:34.10px;text-align:center;font-size:5.1px;line-height:6.2px;color:#1a1a1a">04-Sep-23</div>
<div class="t" style="left:392.70px;top:408.60px;width:33.80px;text-align:center;font-size:5.1px;line-height:6.2px;color:#1a1a1a">09-Sep-23</div>
<div class="t" style="left:426.50px;top:408.60px;width:18.10px;text-align:right;font-size:5.1px;line-height:6.2px;color:#1a1a1a">-61</div>
<div style="left:44.00px;top:421.00px;width:2.00px;height:15.00px;background:#a9c3c9"></div>
<div style="left:46.00px;top:421.00px;width:403.20px;height:15.00px;background:#fff"></div>
<div style="left:46.00px;top:421.00px;width:403.20px;height:1.00px;background:#dcdcdc"></div>
<div style="left:96.00px;top:421.00px;width:1.00px;height:15.00px;background:#d8d8d8"></div>
<div style="left:269.00px;top:421.00px;width:1.00px;height:15.00px;background:#d8d8d8"></div>
<div style="left:291.00px;top:421.00px;width:1.00px;height:15.00px;background:#d8d8d8"></div>
<div style="left:325.00px;top:421.00px;width:1.00px;height:15.00px;background:#d8d8d8"></div>
<div style="left:359.00px;top:421.00px;width:1.00px;height:15.00px;background:#d8d8d8"></div>
<div style="left:393.00px;top:421.00px;width:1.00px;height:15.00px;background:#d8d8d8"></div>
<div style="left:426.00px;top:421.00px;width:1.00px;height:15.00px;background:#d8d8d8"></div>
<div class="t" style="left:56.00px;top:422.60px;font-size:5.1px;line-height:6.2px;color:#1a1a1a">3.2-2696</div>
<div class="t" style="left:98.80px;top:422.80px;font-size:4.8px;line-height:6.2px;color:#1a1a1a">S2 - Span 2D(L)-2E(L) Deck Section</div>
<div class="t" style="left:268.70px;top:422.60px;width:20.30px;text-align:right;font-size:5.1px;line-height:6.2px;color:#1a1a1a">16</div>
<div class="t" style="left:291.00px;top:422.60px;width:33.60px;text-align:center;font-size:5.1px;line-height:6.2px;color:#1a1a1a">02-Dec-23</div>
<div class="t" style="left:324.60px;top:422.60px;width:34.00px;text-align:center;font-size:5.1px;line-height:6.2px;color:#1a1a1a">20-Dec-23</div>
<div class="t" style="left:358.60px;top:422.60px;width:34.10px;text-align:center;font-size:5.1px;line-height:6.2px;color:#1a1a1a">19-Sep-23</div>
<div class="t" style="left:392.70px;top:422.60px;width:33.80px;text-align:center;font-size:5.1px;line-height:6.2px;color:#1a1a1a">09-Oct-23</div>
<div class="t" style="left:426.50px;top:422.60px;width:18.10px;text-align:right;font-size:5.1px;line-height:6.2px;color:#1a1a1a">-61</div>
<div style="left:44.00px;top:436.00px;width:2.00px;height:14.00px;background:#a9c3c9"></div>
<div style="left:46.00px;top:436.00px;width:403.20px;height:14.00px;background:#fff"></div>
<div style="left:46.00px;top:436.00px;width:403.20px;height:1.00px;background:#dcdcdc"></div>
<div style="left:96.00px;top:436.00px;width:1.00px;height:14.00px;background:#d8d8d8"></div>
<div style="left:269.00px;top:436.00px;width:1.00px;height:14.00px;background:#d8d8d8"></div>
<div style="left:291.00px;top:436.00px;width:1.00px;height:14.00px;background:#d8d8d8"></div>
<div style="left:325.00px;top:436.00px;width:1.00px;height:14.00px;background:#d8d8d8"></div>
<div style="left:359.00px;top:436.00px;width:1.00px;height:14.00px;background:#d8d8d8"></div>
<div style="left:393.00px;top:436.00px;width:1.00px;height:14.00px;background:#d8d8d8"></div>
<div style="left:426.00px;top:436.00px;width:1.00px;height:14.00px;background:#d8d8d8"></div>
<div class="t" style="left:56.00px;top:437.60px;font-size:5.1px;line-height:6.2px;color:#1a1a1a">3.2-2692a</div>
<div class="t" style="left:98.80px;top:437.80px;font-size:4.8px;line-height:6.2px;color:#1a1a1a">S2 - Span 2D(L)-2E(L) Web and Soffit - stitch joint at 2D(L)</div>
<div class="t" style="left:268.70px;top:437.60px;width:20.30px;text-align:right;font-size:5.1px;line-height:6.2px;color:#1a1a1a">10</div>
<div class="t" style="left:291.00px;top:437.60px;width:33.60px;text-align:center;font-size:5.1px;line-height:6.2px;color:#1a1a1a">27-Dec-23</div>
<div class="t" style="left:324.60px;top:437.60px;width:34.00px;text-align:center;font-size:5.1px;line-height:6.2px;color:#1a1a1a">08-Jan-24</div>
<div class="t" style="left:358.60px;top:437.60px;width:34.10px;text-align:center;font-size:5.1px;line-height:6.2px;color:#1a1a1a">22-Sep-23</div>
<div class="t" style="left:392.70px;top:437.60px;width:33.80px;text-align:center;font-size:5.1px;line-height:6.2px;color:#1a1a1a">05-Oct-23</div>
<div class="t" style="left:426.50px;top:437.60px;width:18.10px;text-align:right;font-size:5.1px;line-height:6.2px;color:#1a1a1a">-77</div>
<div style="left:44.00px;top:450.00px;width:2.00px;height:15.00px;background:#a9c3c9"></div>
<div style="left:46.00px;top:450.00px;width:403.20px;height:15.00px;background:#fff"></div>
<div style="left:46.00px;top:450.00px;width:403.20px;height:1.00px;background:#dcdcdc"></div>
<div style="left:96.00px;top:450.00px;width:1.00px;height:15.00px;background:#d8d8d8"></div>
<div style="left:269.00px;top:450.00px;width:1.00px;height:15.00px;background:#d8d8d8"></div>
<div style="left:291.00px;top:450.00px;width:1.00px;height:15.00px;background:#d8d8d8"></div>
<div style="left:325.00px;top:450.00px;width:1.00px;height:15.00px;background:#d8d8d8"></div>
<div style="left:359.00px;top:450.00px;width:1.00px;height:15.00px;background:#d8d8d8"></div>
<div style="left:393.00px;top:450.00px;width:1.00px;height:15.00px;background:#d8d8d8"></div>
<div style="left:426.00px;top:450.00px;width:1.00px;height:15.00px;background:#d8d8d8"></div>
<div class="t" style="left:56.00px;top:451.60px;font-size:5.1px;line-height:6.2px;color:#1a1a1a">3.2-2696a</div>
<div class="t" style="left:98.80px;top:451.80px;font-size:4.8px;line-height:6.2px;color:#1a1a1a">S2 - Span 2D(L)-2E(L) Deck Section - stitch joint at 2D(L)</div>
<div class="t" style="left:268.70px;top:451.60px;width:20.30px;text-align:right;font-size:5.1px;line-height:6.2px;color:#1a1a1a">10</div>
<div class="t" style="left:291.00px;top:451.60px;width:33.60px;text-align:center;font-size:5.1px;line-height:6.2px;color:#1a1a1a">09-Jan-24</div>
<div class="t" style="left:324.60px;top:451.60px;width:34.00px;text-align:center;font-size:5.1px;line-height:6.2px;color:#1a1a1a">19-Jan-24</div>
<div class="t" style="left:358.60px;top:451.60px;width:34.10px;text-align:center;font-size:5.1px;line-height:6.2px;color:#1a1a1a">06-Oct-23</div>
<div class="t" style="left:392.70px;top:451.60px;width:33.80px;text-align:center;font-size:5.1px;line-height:6.2px;color:#1a1a1a">17-Oct-23</div>
<div class="t" style="left:426.50px;top:451.60px;width:18.10px;text-align:right;font-size:5.1px;line-height:6.2px;color:#1a1a1a">-77</div>
<div style="left:44.00px;top:465.00px;width:405.20px;height:14.00px;background:#a0d3d1;border-top:1px solid #8fc0be;box-sizing:border-box"></div>
<div class="t" style="left:54.60px;top:466.70px;font-size:5.9px;line-height:7px;font-weight:bold;color:#e9f7f7;-webkit-text-stroke:0">S2 - Span 2E(L)-8A (Stage 4)</div>
<div class="t" style="left:268.70px;top:467.20px;width:20.30px;text-align:right;font-size:5.1px;line-height:6.2px;color:#deeeee">38</div>
<div class="t" style="left:291.00px;top:467.20px;width:33.60px;text-align:center;font-size:5.1px;line-height:6.2px;color:#deeeee">17-Nov-23</div>
<div class="t" style="left:324.60px;top:467.20px;width:34.00px;text-align:center;font-size:5.1px;line-height:6.2px;color:#deeeee">26-Jan-24</div>
<div class="t" style="left:358.60px;top:467.20px;width:34.10px;text-align:center;font-size:5.1px;line-height:6.2px;color:#deeeee">05-Sep-23</div>
<div class="t" style="left:392.70px;top:467.20px;width:33.80px;text-align:center;font-size:5.1px;line-height:6.2px;color:#deeeee">25-Oct-23</div>
<div class="t" style="left:426.50px;top:467.20px;width:18.10px;text-align:right;font-size:5.1px;line-height:6.2px;color:#deeeee">-77</div>
<div style="left:44.00px;top:479.00px;width:2.00px;height:15.00px;background:#a9c3c9"></div>
<div style="left:46.00px;top:479.00px;width:403.20px;height:15.00px;background:#fff"></div>
<div style="left:46.00px;top:479.00px;width:403.20px;height:1.00px;background:#dcdcdc"></div>
<div style="left:96.00px;top:479.00px;width:1.00px;height:15.00px;background:#d8d8d8"></div>
<div style="left:269.00px;top:479.00px;width:1.00px;height:15.00px;background:#d8d8d8"></div>
<div style="left:291.00px;top:479.00px;width:1.00px;height:15.00px;background:#d8d8d8"></div>
<div style="left:325.00px;top:479.00px;width:1.00px;height:15.00px;background:#d8d8d8"></div>
<div style="left:359.00px;top:479.00px;width:1.00px;height:15.00px;background:#d8d8d8"></div>
<div style="left:393.00px;top:479.00px;width:1.00px;height:15.00px;background:#d8d8d8"></div>
<div style="left:426.00px;top:479.00px;width:1.00px;height:15.00px;background:#d8d8d8"></div>
<div class="t" style="left:56.00px;top:480.60px;font-size:5.1px;line-height:6.2px;color:#1a1a1a">3.2-2688</div>
<div class="t" style="left:98.80px;top:480.80px;font-size:4.8px;line-height:6.2px;color:#1a1a1a">S2 - Span 2E(L)-8A Falsework and formworks</div>
<div class="t" style="left:268.70px;top:480.60px;width:20.30px;text-align:right;font-size:5.1px;line-height:6.2px;color:#1a1a1a">7</div>
<div class="t" style="left:291.00px;top:480.60px;width:33.60px;text-align:center;font-size:5.1px;line-height:6.2px;color:#1a1a1a">17-Nov-23</div>
<div class="t" style="left:324.60px;top:480.60px;width:34.00px;text-align:center;font-size:5.1px;line-height:6.2px;color:#1a1a1a">24-Nov-23</div>
<div class="t" style="left:358.60px;top:480.60px;width:34.10px;text-align:center;font-size:5.1px;line-height:6.2px;color:#1a1a1a">05-Sep-23</div>
<div class="t" style="left:392.70px;top:480.60px;width:33.80px;text-align:center;font-size:5.1px;line-height:6.2px;color:#1a1a1a">12-Sep-23</div>
<div class="t" style="left:426.50px;top:480.60px;width:18.10px;text-align:right;font-size:5.1px;line-height:6.2px;color:#1a1a1a">-60</div>
<div style="left:44.00px;top:494.00px;width:2.00px;height:14.00px;background:#a9c3c9"></div>
<div style="left:46.00px;top:494.00px;width:403.20px;height:14.00px;background:#fff"></div>
<div style="left:46.00px;top:494.00px;width:403.20px;height:1.00px;background:#dcdcdc"></div>
<div style="left:96.00px;top:494.00px;width:1.00px;height:14.00px;background:#d8d8d8"></div>
<div style="left:269.00px;top:494.00px;width:1.00px;height:14.00px;background:#d8d8d8"></div>
<div style="left:291.00px;top:494.00px;width:1.00px;height:14.00px;background:#d8d8d8"></div>
<div style="left:325.00px;top:494.00px;width:1.00px;height:14.00px;background:#d8d8d8"></div>
<div style="left:359.00px;top:494.00px;width:1.00px;height:14.00px;background:#d8d8d8"></div>
<div style="left:393.00px;top:494.00px;width:1.00px;height:14.00px;background:#d8d8d8"></div>
<div style="left:426.00px;top:494.00px;width:1.00px;height:14.00px;background:#d8d8d8"></div>
<div class="t" style="left:56.00px;top:495.60px;font-size:5.1px;line-height:6.2px;color:#1a1a1a">3.2-2690</div>
<div class="t" style="left:98.80px;top:495.80px;font-size:4.8px;line-height:6.2px;color:#1a1a1a">S2 - Span 2E(L) / 8A Install Bearings</div>
<div class="t" style="left:268.70px;top:495.60px;width:20.30px;text-align:right;font-size:5.1px;line-height:6.2px;color:#1a1a1a">6</div>
<div class="t" style="left:291.00px;top:495.60px;width:33.60px;text-align:center;font-size:5.1px;line-height:6.2px;color:#1a1a1a">25-Nov-23</div>
<div class="t" style="left:324.60px;top:495.60px;width:34.00px;text-align:center;font-size:5.1px;line-height:6.2px;color:#1a1a1a">01-Dec-23</div>
<div class="t" style="left:358.60px;top:495.60px;width:34.10px;text-align:center;font-size:5.1px;line-height:6.2px;color:#1a1a1a">13-Sep-23</div>
<div class="t" style="left:392.70px;top:495.60px;width:33.80px;text-align:center;font-size:5.1px;line-height:6.2px;color:#1a1a1a">19-Sep-23</div>
<div class="t" style="left:426.50px;top:495.60px;width:18.10px;text-align:right;font-size:5.1px;line-height:6.2px;color:#1a1a1a">-60</div>
<div style="left:44.00px;top:508.00px;width:2.00px;height:15.00px;background:#a9c3c9"></div>
<div style="left:46.00px;top:508.00px;width:403.20px;height:15.00px;background:#fff"></div>
<div style="left:46.00px;top:508.00px;width:403.20px;height:1.00px;background:#dcdcdc"></div>
<div style="left:96.00px;top:508.00px;width:1.00px;height:15.00px;background:#d8d8d8"></div>
<div style="left:269.00px;top:508.00px;width:1.00px;height:15.00px;background:#d8d8d8"></div>
<div style="left:291.00px;top:508.00px;width:1.00px;height:15.00px;background:#d8d8d8"></div>
<div style="left:325.00px;top:508.00px;width:1.00px;height:15.00px;background:#d8d8d8"></div>
<div style="left:359.00px;top:508.00px;width:1.00px;height:15.00px;background:#d8d8d8"></div>
<div style="left:393.00px;top:508.00px;width:1.00px;height:15.00px;background:#d8d8d8"></div>
<div style="left:426.00px;top:508.00px;width:1.00px;height:15.00px;background:#d8d8d8"></div>
<div class="t" style="left:56.00px;top:509.60px;font-size:5.1px;line-height:6.2px;color:#1a1a1a">3.2-2694</div>
<div class="t" style="left:98.80px;top:509.80px;font-size:4.8px;line-height:6.2px;color:#1a1a1a">S2 - Span 2E(L)-8A Web and Soffit</div>
<div class="t" style="left:268.70px;top:509.60px;width:20.30px;text-align:right;font-size:5.1px;line-height:6.2px;color:#1a1a1a">14</div>
<div class="t" style="left:291.00px;top:509.60px;width:33.60px;text-align:center;font-size:5.1px;line-height:6.2px;color:#1a1a1a">15-Dec-23</div>
<div class="t" style="left:324.60px;top:509.60px;width:34.00px;text-align:center;font-size:5.1px;line-height:6.2px;color:#1a1a1a">03-Jan-24</div>
<div class="t" style="left:358.60px;top:509.60px;width:34.10px;text-align:center;font-size:5.1px;line-height:6.2px;color:#1a1a1a">12-Sep-23</div>
<div class="t" style="left:392.70px;top:509.60px;width:33.80px;text-align:center;font-size:5.1px;line-height:6.2px;color:#1a1a1a">28-Sep-23</div>
<div class="t" style="left:426.50px;top:509.60px;width:18.10px;text-align:right;font-size:5.1px;line-height:6.2px;color:#1a1a1a">-77</div>
<div style="left:44.00px;top:523.00px;width:2.00px;height:14.00px;background:#a9c3c9"></div>
<div style="left:46.00px;top:523.00px;width:403.20px;height:14.00px;background:#fff"></div>
<div style="left:46.00px;top:523.00px;width:403.20px;height:1.00px;background:#dcdcdc"></div>
<div style="left:96.00px;top:523.00px;width:1.00px;height:14.00px;background:#d8d8d8"></div>
<div style="left:269.00px;top:523.00px;width:1.00px;height:14.00px;background:#d8d8d8"></div>
<div style="left:291.00px;top:523.00px;width:1.00px;height:14.00px;background:#d8d8d8"></div>
<div style="left:325.00px;top:523.00px;width:1.00px;height:14.00px;background:#d8d8d8"></div>
<div style="left:359.00px;top:523.00px;width:1.00px;height:14.00px;background:#d8d8d8"></div>
<div style="left:393.00px;top:523.00px;width:1.00px;height:14.00px;background:#d8d8d8"></div>
<div style="left:426.00px;top:523.00px;width:1.00px;height:14.00px;background:#d8d8d8"></div>
<div class="t" style="left:56.00px;top:524.60px;font-size:5.1px;line-height:6.2px;color:#1a1a1a">3.2-2698</div>
<div class="t" style="left:98.80px;top:524.80px;font-size:4.8px;line-height:6.2px;color:#1a1a1a">S2 - Span 2E(L)-8A Deck Section</div>
<div class="t" style="left:268.70px;top:524.60px;width:20.30px;text-align:right;font-size:5.1px;line-height:6.2px;color:#1a1a1a">14</div>
<div class="t" style="left:291.00px;top:524.60px;width:33.60px;text-align:center;font-size:5.1px;line-height:6.2px;color:#1a1a1a">04-Jan-24</div>
<div class="t" style="left:324.60px;top:524.60px;width:34.00px;text-align:center;font-size:5.1px;line-height:6.2px;color:#1a1a1a">19-Jan-24</div>
<div class="t" style="left:358.60px;top:524.60px;width:34.10px;text-align:center;font-size:5.1px;line-height:6.2px;color:#1a1a1a">29-Sep-23</div>
<div class="t" style="left:392.70px;top:524.60px;width:33.80px;text-align:center;font-size:5.1px;line-height:6.2px;color:#1a1a1a">17-Oct-23</div>
<div class="t" style="left:426.50px;top:524.60px;width:18.10px;text-align:right;font-size:5.1px;line-height:6.2px;color:#1a1a1a">-77</div>
<div style="left:44.00px;top:537.00px;width:2.00px;height:15.00px;background:#a9c3c9"></div>
<div style="left:46.00px;top:537.00px;width:403.20px;height:15.00px;background:#fff"></div>
<div style="left:46.00px;top:537.00px;width:403.20px;height:1.00px;background:#dcdcdc"></div>
<div style="left:96.00px;top:537.00px;width:1.00px;height:15.00px;background:#d8d8d8"></div>
<div style="left:269.00px;top:537.00px;width:1.00px;height:15.00px;background:#d8d8d8"></div>
<div style="left:291.00px;top:537.00px;width:1.00px;height:15.00px;background:#d8d8d8"></div>
<div style="left:325.00px;top:537.00px;width:1.00px;height:15.00px;background:#d8d8d8"></div>
<div style="left:359.00px;top:537.00px;width:1.00px;height:15.00px;background:#d8d8d8"></div>
<div style="left:393.00px;top:537.00px;width:1.00px;height:15.00px;background:#d8d8d8"></div>
<div style="left:426.00px;top:537.00px;width:1.00px;height:15.00px;background:#d8d8d8"></div>
<div class="t" style="left:56.00px;top:538.60px;font-size:5.1px;line-height:6.2px;color:#1a1a1a">3.2-2700</div>
<div class="t" style="left:98.80px;top:538.80px;font-size:4.8px;line-height:6.2px;color:#1a1a1a">S2 - Span 2E(L)-8A Post-tensioning (Stage 4)</div>
<div class="t" style="left:268.70px;top:538.60px;width:20.30px;text-align:right;font-size:5.1px;line-height:6.2px;color:#1a1a1a">6</div>
<div class="t" style="left:291.00px;top:538.60px;width:33.60px;text-align:center;font-size:5.1px;line-height:6.2px;color:#1a1a1a">20-Jan-24</div>
<div class="t" style="left:324.60px;top:538.60px;width:34.00px;text-align:center;font-size:5.1px;line-height:6.2px;color:#1a1a1a">26-Jan-24</div>
<div class="t" style="left:358.60px;top:538.60px;width:34.10px;text-align:center;font-size:5.1px;line-height:6.2px;color:#1a1a1a">18-Oct-23</div>
<div class="t" style="left:392.70px;top:538.60px;width:33.80px;text-align:center;font-size:5.1px;line-height:6.2px;color:#1a1a1a">25-Oct-23</div>
<div class="t" style="left:426.50px;top:538.60px;width:18.10px;text-align:right;font-size:5.1px;line-height:6.2px;color:#1a1a1a">-77</div>
<div style="left:42.00px;top:552.00px;width:407.20px;height:15.00px;background:#fdfd82"></div>
<div style="left:268.20px;top:552.00px;width:0.80px;height:15.00px;background:#e6e67a"></div>
<div class="t" style="left:52.00px;top:554.00px;font-size:6px;line-height:7px;font-weight:bold;color:#111">S2 Span (R)</div>
<div class="t" style="left:268.70px;top:554.00px;width:20.30px;text-align:right;font-size:5.3px;line-height:6.2px;color:#222">171</div>
<div class="t" style="left:291.00px;top:554.00px;width:33.60px;text-align:center;font-size:5.3px;line-height:6.2px;color:#222">05-Jul-23 A</div>
<div class="t" style="left:324.60px;top:554.00px;width:34.00px;text-align:center;font-size:5.3px;line-height:6.2px;color:#222">27-Jan-24</div>
<div class="t" style="left:358.60px;top:554.00px;width:34.10px;text-align:center;font-size:5.3px;line-height:6.2px;color:#222">26-Jun-23</div>
<div class="t" style="left:392.70px;top:554.00px;width:33.80px;text-align:center;font-size:5.3px;line-height:6.2px;color:#222">08-Apr-24</div>
<div class="t" style="left:426.50px;top:554.00px;width:18.10px;text-align:right;font-size:5.3px;line-height:6.2px;color:#222">51</div>
<div style="left:44.00px;top:567.00px;width:405.20px;height:14.00px;background:#a0d3d1;border-top:1px solid #8fc0be;box-sizing:border-box"></div>
<div class="t" style="left:54.60px;top:568.70px;font-size:5.9px;line-height:7px;font-weight:bold;color:#e9f7f7;-webkit-text-stroke:0">S2 - Span 2A(R)-2B(R) (Stage 1)</div>
<div class="t" style="left:268.70px;top:569.20px;width:20.30px;text-align:right;font-size:5.1px;line-height:6.2px;color:#deeeee">81</div>
<div class="t" style="left:291.00px;top:569.20px;width:33.60px;text-align:center;font-size:5.1px;line-height:6.2px;color:#deeeee">06-Jul-23 A</div>
<div class="t" style="left:324.60px;top:569.20px;width:34.00px;text-align:center;font-size:5.1px;line-height:6.2px;color:#deeeee">10-Oct-23</div>
<div class="t" style="left:358.60px;top:569.20px;width:34.10px;text-align:center;font-size:5.1px;line-height:6.2px;color:#deeeee">26-Jun-23</div>
<div class="t" style="left:392.70px;top:569.20px;width:33.80px;text-align:center;font-size:5.1px;line-height:6.2px;color:#deeeee">05-Oct-23</div>
<div class="t" style="left:426.50px;top:569.20px;width:18.10px;text-align:right;font-size:5.1px;line-height:6.2px;color:#deeeee">-4</div>
<div style="left:44.00px;top:581.00px;width:2.00px;height:15.00px;background:#a9c3c9"></div>
<div style="left:46.00px;top:581.00px;width:403.20px;height:15.00px;background:#fff"></div>
<div style="left:46.00px;top:581.00px;width:403.20px;height:1.00px;background:#dcdcdc"></div>
<div style="left:96.00px;top:581.00px;width:1.00px;height:15.00px;background:#d8d8d8"></div>
<div style="left:269.00px;top:581.00px;width:1.00px;height:15.00px;background:#d8d8d8"></div>
<div style="left:291.00px;top:581.00px;width:1.00px;height:15.00px;background:#d8d8d8"></div>
<div style="left:325.00px;top:581.00px;width:1.00px;height:15.00px;background:#d8d8d8"></div>
<div style="left:359.00px;top:581.00px;width:1.00px;height:15.00px;background:#d8d8d8"></div>
<div style="left:393.00px;top:581.00px;width:1.00px;height:15.00px;background:#d8d8d8"></div>
<div style="left:426.00px;top:581.00px;width:1.00px;height:15.00px;background:#d8d8d8"></div>
<div class="t" style="left:56.00px;top:582.60px;font-size:5.1px;line-height:6.2px;color:#1a1a1a">3.2-2628</div>
<div class="t" style="left:98.80px;top:582.80px;font-size:4.8px;line-height:6.2px;color:#1a1a1a">S2 - Span 2A-2B(R) Web and Soffit</div>
<div class="t" style="left:268.70px;top:582.60px;width:20.30px;text-align:right;font-size:5.1px;line-height:6.2px;color:#1a1a1a">17</div>
<div class="t" style="left:291.00px;top:582.60px;width:33.60px;text-align:center;font-size:5.1px;line-height:6.2px;color:#1a1a1a">06-Jul-23 A</div>
<div class="t" style="left:324.60px;top:582.60px;width:34.00px;text-align:center;font-size:5.1px;line-height:6.2px;color:#1a1a1a">11-Aug-23 A</div>
<div class="t" style="left:358.60px;top:582.60px;width:34.10px;text-align:center;font-size:5.1px;line-height:6.2px;color:#1a1a1a">26-Jun-23</div>
<div class="t" style="left:392.70px;top:582.60px;width:33.80px;text-align:center;font-size:5.1px;line-height:6.2px;color:#1a1a1a">26-Jun-23</div>
<div class="t" style="left:426.50px;top:582.60px;width:18.10px;text-align:right;font-size:5.1px;line-height:6.2px;color:#1a1a1a"></div>
<div style="left:46.00px;top:596.00px;width:403.20px;height:1.00px;background:#dcdcdc"></div>
<div style="left:30.00px;top:43.00px;width:2.00px;height:553.00px;background:#0b0050"></div>
<div style="left:32.00px;top:43.00px;width:2.00px;height:553.00px;background:#d96a42"></div>
<div style="left:34.00px;top:43.00px;width:2.00px;height:553.00px;background:#3fa2d2"></div>
<div style="left:36.00px;top:43.00px;width:3.00px;height:553.00px;background:#d9a898"></div>
<div style="left:39.00px;top:43.00px;width:3.00px;height:553.00px;background:#e6e2d2"></div>
<div style="left:42.00px;top:43.00px;width:2.00px;height:553.00px;background:#f2f29a"></div>
<div style="left:449.20px;top:25.00px;width:496.30px;height:1.00px;background:#3a3a3a"></div>
<div style="left:449.20px;top:31.00px;width:496.30px;height:1.00px;background:#3a3a3a"></div>
<div style="left:449.20px;top:37.00px;width:496.30px;height:1.00px;background:#3a3a3a"></div>
<div style="left:30.00px;top:42.60px;width:915.50px;height:1.60px;background:#3a3a3a"></div>
<div style="left:96.20px;top:25.00px;width:1.10px;height:18.00px;background:#3a3a3a"></div>
<div style="left:268.40px;top:25.00px;width:1.10px;height:18.00px;background:#3a3a3a"></div>
<div style="left:290.70px;top:25.00px;width:1.10px;height:18.00px;background:#3a3a3a"></div>
<div style="left:324.30px;top:25.00px;width:1.10px;height:18.00px;background:#3a3a3a"></div>
<div style="left:358.30px;top:25.00px;width:1.10px;height:18.00px;background:#3a3a3a"></div>
<div style="left:392.40px;top:25.00px;width:1.10px;height:18.00px;background:#3a3a3a"></div>
<div style="left:426.20px;top:25.00px;width:1.10px;height:18.00px;background:#3a3a3a"></div>
<div style="left:446.30px;top:25.00px;width:0.90px;height:18.00px;background:#666"></div>
<div style="left:469.28px;top:25.00px;width:1.00px;height:12.00px;background:#3a3a3a"></div>
<div class="t" style="left:469.68px;top:25.30px;width:91.67px;text-align:center;font-size:4.9px;line-height:6px;color:#000;-webkit-text-stroke:0.2px #000;overflow:hidden">September</div>
<div class="t" style="left:469.68px;top:32.10px;width:91.67px;text-align:center;font-size:4.5px;line-height:6px;color:#000;-webkit-text-stroke:0.2px #000">53</div>
<div style="left:560.95px;top:25.00px;width:1.00px;height:12.00px;background:#3a3a3a"></div>
<div class="t" style="left:561.35px;top:25.30px;width:94.73px;text-align:center;font-size:4.9px;line-height:6px;color:#000;-webkit-text-stroke:0.2px #000;overflow:hidden">October</div>
<div class="t" style="left:561.35px;top:32.10px;width:94.73px;text-align:center;font-size:4.5px;line-height:6px;color:#000;-webkit-text-stroke:0.2px #000">54</div>
<div style="left:655.68px;top:25.00px;width:1.00px;height:12.00px;background:#3a3a3a"></div>
<div class="t" style="left:656.08px;top:25.30px;width:91.67px;text-align:center;font-size:4.9px;line-height:6px;color:#000;-webkit-text-stroke:0.2px #000;overflow:hidden">November</div>
<div class="t" style="left:656.08px;top:32.10px;width:91.67px;text-align:center;font-size:4.5px;line-height:6px;color:#000;-webkit-text-stroke:0.2px #000">55</div>
<div style="left:747.36px;top:25.00px;width:1.00px;height:12.00px;background:#3a3a3a"></div>
<div class="t" style="left:747.76px;top:25.30px;width:94.73px;text-align:center;font-size:4.9px;line-height:6px;color:#000;-webkit-text-stroke:0.2px #000;overflow:hidden">December</div>
<div class="t" style="left:747.76px;top:32.10px;width:94.73px;text-align:center;font-size:4.5px;line-height:6px;color:#000;-webkit-text-stroke:0.2px #000">56</div>
<div style="left:842.09px;top:25.00px;width:1.00px;height:12.00px;background:#3a3a3a"></div>
<div class="t" style="left:842.49px;top:25.30px;width:94.73px;text-align:center;font-size:4.9px;line-height:6px;color:#000;-webkit-text-stroke:0.2px #000;overflow:hidden">January</div>
<div class="t" style="left:842.49px;top:32.10px;width:94.73px;text-align:center;font-size:4.5px;line-height:6px;color:#000;-webkit-text-stroke:0.2px #000">57</div>
<div style="left:936.82px;top:25.00px;width:1.00px;height:12.00px;background:#3a3a3a"></div>
<div class="t" style="left:937.22px;top:25.30px;width:8.28px;text-align:center;font-size:4.9px;line-height:6px;color:#000;-webkit-text-stroke:0.2px #000;overflow:hidden">Jan</div>
<div class="t" style="left:937.22px;top:32.10px;width:8.28px;text-align:center;font-size:4.5px;line-height:6px;color:#000;-webkit-text-stroke:0.2px #000">58</div>
<div style="left:454.00px;top:37.00px;width:1.00px;height:6.00px;background:#3a3a3a"></div>
<div class="t" style="left:454.40px;top:38.40px;width:21.39px;text-align:center;font-size:4.5px;line-height:6px;color:#000;-webkit-text-stroke:0.2px #000">27</div>
<div class="dv" style="left:454.00px;top:43.7px;height:552.30px"></div>
<div style="left:475.39px;top:37.00px;width:1.00px;height:6.00px;background:#3a3a3a"></div>
<div class="t" style="left:475.79px;top:38.40px;width:21.39px;text-align:center;font-size:4.5px;line-height:6px;color:#000;-webkit-text-stroke:0.2px #000">03</div>
<div class="dv" style="left:475.39px;top:43.7px;height:552.30px"></div>
<div style="left:496.78px;top:37.00px;width:1.00px;height:6.00px;background:#3a3a3a"></div>
<div class="t" style="left:497.18px;top:38.40px;width:21.39px;text-align:center;font-size:4.5px;line-height:6px;color:#000;-webkit-text-stroke:0.2px #000">10</div>
<div class="dv" style="left:496.78px;top:43.7px;height:552.30px"></div>
<div style="left:518.17px;top:37.00px;width:1.00px;height:6.00px;background:#3a3a3a"></div>
<div class="t" style="left:518.57px;top:38.40px;width:21.39px;text-align:center;font-size:4.5px;line-height:6px;color:#000;-webkit-text-stroke:0.2px #000">17</div>
<div class="dv" style="left:518.17px;top:43.7px;height:552.30px"></div>
<div style="left:539.56px;top:37.00px;width:1.00px;height:6.00px;background:#3a3a3a"></div>
<div class="t" style="left:539.96px;top:38.40px;width:21.39px;text-align:center;font-size:4.5px;line-height:6px;color:#000;-webkit-text-stroke:0.2px #000">24</div>
<div class="dv" style="left:539.56px;top:43.7px;height:552.30px"></div>
<div style="left:560.95px;top:37.00px;width:1.00px;height:6.00px;background:#3a3a3a"></div>
<div class="t" style="left:561.35px;top:38.40px;width:21.39px;text-align:center;font-size:4.5px;line-height:6px;color:#000;-webkit-text-stroke:0.2px #000">01</div>
<div class="dv" style="left:560.95px;top:43.7px;height:552.30px"></div>
<div style="left:582.34px;top:37.00px;width:1.00px;height:6.00px;background:#3a3a3a"></div>
<div class="t" style="left:582.74px;top:38.40px;width:21.39px;text-align:center;font-size:4.5px;line-height:6px;color:#000;-webkit-text-stroke:0.2px #000">08</div>
<div class="dv" style="left:582.34px;top:43.7px;height:552.30px"></div>
<div style="left:603.73px;top:37.00px;width:1.00px;height:6.00px;background:#3a3a3a"></div>
<div class="t" style="left:604.13px;top:38.40px;width:21.39px;text-align:center;font-size:4.5px;line-height:6px;color:#000;-webkit-text-stroke:0.2px #000">15</div>
<div class="dv" style="left:603.73px;top:43.7px;height:552.30px"></div>
<div style="left:625.12px;top:37.00px;width:1.00px;height:6.00px;background:#3a3a3a"></div>
<div class="t" style="left:625.52px;top:38.40px;width:21.39px;text-align:center;font-size:4.5px;line-height:6px;color:#000;-webkit-text-stroke:0.2px #000">22</div>
<div class="dv" style="left:625.12px;top:43.7px;height:552.30px"></div>
<div style="left:646.52px;top:37.00px;width:1.00px;height:6.00px;background:#3a3a3a"></div>
<div class="t" style="left:646.92px;top:38.40px;width:21.39px;text-align:center;font-size:4.5px;line-height:6px;color:#000;-webkit-text-stroke:0.2px #000">29</div>
<div class="dv" style="left:646.52px;top:43.7px;height:552.30px"></div>
<div style="left:667.91px;top:37.00px;width:1.00px;height:6.00px;background:#3a3a3a"></div>
<div class="t" style="left:668.31px;top:38.40px;width:21.39px;text-align:center;font-size:4.5px;line-height:6px;color:#000;-webkit-text-stroke:0.2px #000">05</div>
<div class="dv" style="left:667.91px;top:43.7px;height:552.30px"></div>
<div style="left:689.30px;top:37.00px;width:1.00px;height:6.00px;background:#3a3a3a"></div>
<div class="t" style="left:689.70px;top:38.40px;width:21.39px;text-align:center;font-size:4.5px;line-height:6px;color:#000;-webkit-text-stroke:0.2px #000">12</div>
<div class="dv" style="left:689.30px;top:43.7px;height:552.30px"></div>
<div style="left:710.69px;top:37.00px;width:1.00px;height:6.00px;background:#3a3a3a"></div>
<div class="t" style="left:711.09px;top:38.40px;width:21.39px;text-align:center;font-size:4.5px;line-height:6px;color:#000;-webkit-text-stroke:0.2px #000">19</div>
<div class="dv" style="left:710.69px;top:43.7px;height:552.30px"></div>
<div style="left:732.08px;top:37.00px;width:1.00px;height:6.00px;background:#3a3a3a"></div>
<div class="t" style="left:732.48px;top:38.40px;width:21.39px;text-align:center;font-size:4.5px;line-height:6px;color:#000;-webkit-text-stroke:0.2px #000">26</div>
<div class="dv" style="left:732.08px;top:43.7px;height:552.30px"></div>
<div style="left:753.47px;top:37.00px;width:1.00px;height:6.00px;background:#3a3a3a"></div>
<div class="t" style="left:753.87px;top:38.40px;width:21.39px;text-align:center;font-size:4.5px;line-height:6px;color:#000;-webkit-text-stroke:0.2px #000">03</div>
<div class="dv" style="left:753.47px;top:43.7px;height:552.30px"></div>
<div style="left:774.86px;top:37.00px;width:1.00px;height:6.00px;background:#3a3a3a"></div>
<div class="t" style="left:775.26px;top:38.40px;width:21.39px;text-align:center;font-size:4.5px;line-height:6px;color:#000;-webkit-text-stroke:0.2px #000">10</div>
<div class="dv" style="left:774.86px;top:43.7px;height:552.30px"></div>
<div style="left:796.25px;top:37.00px;width:1.00px;height:6.00px;background:#3a3a3a"></div>
<div class="t" style="left:796.65px;top:38.40px;width:21.39px;text-align:center;font-size:4.5px;line-height:6px;color:#000;-webkit-text-stroke:0.2px #000">17</div>
<div class="dv" style="left:796.25px;top:43.7px;height:552.30px"></div>
<div style="left:817.64px;top:37.00px;width:1.00px;height:6.00px;background:#3a3a3a"></div>
<div class="t" style="left:818.04px;top:38.40px;width:21.39px;text-align:center;font-size:4.5px;line-height:6px;color:#000;-webkit-text-stroke:0.2px #000">24</div>
<div class="dv" style="left:817.64px;top:43.7px;height:552.30px"></div>
<div style="left:839.03px;top:37.00px;width:1.00px;height:6.00px;background:#3a3a3a"></div>
<div class="t" style="left:839.43px;top:38.40px;width:21.39px;text-align:center;font-size:4.5px;line-height:6px;color:#000;-webkit-text-stroke:0.2px #000">31</div>
<div class="dv" style="left:839.03px;top:43.7px;height:552.30px"></div>
<div style="left:860.42px;top:37.00px;width:1.00px;height:6.00px;background:#3a3a3a"></div>
<div class="t" style="left:860.82px;top:38.40px;width:21.39px;text-align:center;font-size:4.5px;line-height:6px;color:#000;-webkit-text-stroke:0.2px #000">07</div>
<div class="dv" style="left:860.42px;top:43.7px;height:552.30px"></div>
<div style="left:881.81px;top:37.00px;width:1.00px;height:6.00px;background:#3a3a3a"></div>
<div class="t" style="left:882.21px;top:38.40px;width:21.39px;text-align:center;font-size:4.5px;line-height:6px;color:#000;-webkit-text-stroke:0.2px #000">14</div>
<div class="dv" style="left:881.81px;top:43.7px;height:552.30px"></div>
<div style="left:903.20px;top:37.00px;width:1.00px;height:6.00px;background:#3a3a3a"></div>
<div class="t" style="left:903.60px;top:38.40px;width:21.39px;text-align:center;font-size:4.5px;line-height:6px;color:#000;-webkit-text-stroke:0.2px #000">21</div>
<div class="dv" style="left:903.20px;top:43.7px;height:552.30px"></div>
<div style="left:924.59px;top:37.00px;width:1.00px;height:6.00px;background:#3a3a3a"></div>
<div class="t" style="left:924.99px;top:38.40px;width:20.51px;text-align:center;font-size:4.5px;line-height:6px;color:#000;-webkit-text-stroke:0.2px #000">28</div>
<div class="dv" style="left:924.59px;top:43.7px;height:552.30px"></div>
<div style="left:469.00px;top:43.70px;width:2.00px;height:552.30px;background:#9c9c9c"></div>
<div style="left:747.00px;top:43.70px;width:2.00px;height:552.30px;background:#9c9c9c"></div>
<div style="left:936.00px;top:43.70px;width:2.00px;height:552.30px;background:#9c9c9c"></div>
<div class="dh" style="left:450.20px;top:71.38px;width:495.30px"></div>
<div class="dh" style="left:450.20px;top:144.08px;width:495.30px"></div>
<div class="dh" style="left:450.20px;top:216.78px;width:495.30px"></div>
<div class="dh" style="left:450.20px;top:289.48px;width:495.30px"></div>
<div class="dh" style="left:450.20px;top:362.18px;width:495.30px"></div>
<div class="dh" style="left:450.20px;top:434.88px;width:495.30px"></div>
<div class="dh" style="left:450.20px;top:507.58px;width:495.30px"></div>
<div class="dh" style="left:450.20px;top:580.28px;width:495.30px"></div>
<div style="left:449.20px;top:74.08px;width:20.30px;height:4.00px;background:#0000cc;border:0.6px solid #000088;box-sizing:border-box"></div>
<div style="left:521.50px;top:88.62px;width:15.70px;height:4.00px;background:#0000cc;border:0.6px solid #000088;box-sizing:border-box"></div>
<div style="left:449.20px;top:146.78px;width:93.80px;height:4.00px;background:#0000cc;border:0.6px solid #000088;box-sizing:border-box"></div>
<div style="left:449.20px;top:219.48px;width:88.30px;height:4.00px;background:#0000cc;border:0.6px solid #000088;box-sizing:border-box"></div>
<div style="left:449.20px;top:364.88px;width:93.80px;height:4.00px;background:#0000cc;border:0.6px solid #000088;box-sizing:border-box"></div>
<div style="left:543.62px;top:102.56px;width:48.28px;height:5.00px;background:#8ef58e;border:1px solid #2e6e2e;box-sizing:border-box"></div>
<div style="left:543.60px;top:146.18px;width:54.41px;height:5.00px;background:#8ef58e;border:1px solid #2e6e2e;box-sizing:border-box"></div>
<div style="left:598.62px;top:160.72px;width:81.89px;height:5.00px;background:#8ef58e;border:1px solid #2e6e2e;box-sizing:border-box"></div>
<div style="left:681.13px;top:175.26px;width:42.16px;height:5.00px;background:#8ef58e;border:1px solid #2e6e2e;box-sizing:border-box"></div>
<div style="left:723.91px;top:189.80px;width:42.16px;height:5.00px;background:#8ef58e;border:1px solid #2e6e2e;box-sizing:border-box"></div>
<div style="left:543.62px;top:233.42px;width:60.50px;height:5.00px;background:#8ef58e;border:1px solid #2e6e2e;box-sizing:border-box"></div>
<div style="left:607.79px;top:247.96px;width:72.72px;height:5.00px;background:#8ef58e;border:1px solid #2e6e2e;box-sizing:border-box"></div>
<div style="left:723.91px;top:262.50px;width:36.05px;height:5.00px;background:#8ef58e;border:1px solid #2e6e2e;box-sizing:border-box"></div>
<div style="left:760.58px;top:277.04px;width:33.00px;height:5.00px;background:#8ef58e;border:1px solid #2e6e2e;box-sizing:border-box"></div>
<div style="left:794.19px;top:291.58px;width:23.83px;height:5.00px;background:#8ef58e;border:1px solid #2e6e2e;box-sizing:border-box"></div>
<div style="left:827.81px;top:306.12px;width:45.22px;height:5.00px;background:#8ef58e;border:1px solid #2e6e2e;box-sizing:border-box"></div>
<div style="left:681.13px;top:378.82px;width:23.83px;height:5.00px;background:#8ef58e;border:1px solid #2e6e2e;box-sizing:border-box"></div>
<div style="left:705.58px;top:393.36px;width:45.22px;height:5.00px;background:#8ef58e;border:1px solid #2e6e2e;box-sizing:border-box"></div>
<div style="left:705.58px;top:407.90px;width:20.77px;height:5.00px;background:#8ef58e;border:1px solid #2e6e2e;box-sizing:border-box"></div>
<div style="left:751.41px;top:422.44px;width:57.44px;height:5.00px;background:#8ef58e;border:1px solid #2e6e2e;box-sizing:border-box"></div>
<div style="left:827.81px;top:436.98px;width:39.11px;height:5.00px;background:#8ef58e;border:1px solid #2e6e2e;box-sizing:border-box"></div>
<div style="left:867.53px;top:451.52px;width:33.00px;height:5.00px;background:#8ef58e;border:1px solid #2e6e2e;box-sizing:border-box"></div>
<div style="left:705.58px;top:480.60px;width:23.83px;height:5.00px;background:#8ef58e;border:1px solid #2e6e2e;box-sizing:border-box"></div>
<div style="left:730.02px;top:495.14px;width:20.77px;height:5.00px;background:#8ef58e;border:1px solid #2e6e2e;box-sizing:border-box"></div>
<div style="left:791.14px;top:509.68px;width:60.50px;height:5.00px;background:#8ef58e;border:1px solid #2e6e2e;box-sizing:border-box"></div>
<div style="left:852.25px;top:524.22px;width:48.28px;height:5.00px;background:#8ef58e;border:1px solid #2e6e2e;box-sizing:border-box"></div>
<div style="left:901.15px;top:538.76px;width:20.77px;height:5.00px;background:#8ef58e;border:1px solid #2e6e2e;box-sizing:border-box"></div>
<div style="left:542.20px;top:43.70px;width:1.90px;height:552.30px;background:#1a1ae0"></div>
<div style="left:448.60px;top:25.00px;width:1.40px;height:571.00px;background:#707070"></div>
<div style="left:449.20px;top:595.50px;width:496.30px;height:1.00px;background:#9a9a9a"></div>
<div style="left:30.00px;top:25.00px;width:915.50px;height:1.00px;background:#3a3a3a"></div>
<div style="left:30.00px;top:25.00px;width:1.00px;height:640.00px;background:#666"></div>
<div style="left:945.00px;top:25.00px;width:1.10px;height:640.00px;background:#444"></div>
<div style="left:30.00px;top:606.00px;width:915.50px;height:1.60px;background:#7a7a7a"></div>
<div style="left:30.00px;top:664.00px;width:915.50px;height:1.30px;background:#555"></div>
<div style="left:30.00px;top:43.00px;width:2.00px;height:553.00px;background:#0b0050"></div>
<div style="left:194.20px;top:607.00px;width:0.90px;height:57.50px;background:#444"></div>
<div style="left:575.00px;top:607.00px;width:0.90px;height:57.50px;background:#444"></div>
<div style="left:763.30px;top:607.00px;width:0.90px;height:57.50px;background:#444"></div>
<svg style="position:absolute;left:0;top:0" width="1002" height="708"><path d="M37.5 611.3 L40 613.8 L37.5 616.3 L35 613.8 Z" fill="#0a0a9a"/><path d="M59.1 612.2 Q59.1 610.8 61.8 610.8 Q64.5 610.8 64.5 612.2 L64.5 613.2 L61.8 615.9 L59.1 613.2 Z" fill="#0a0a9a"/></svg>
<div class="t" style="left:67.20px;top:611.30px;font-size:4.2px;line-height:5px;color:#222">Current Milestone</div>
<div style="left:37.00px;top:620.00px;width:9.00px;height:5.00px;background:#0000cc;border:0.8px solid #000088;box-sizing:border-box"></div>
<div style="left:46.00px;top:622.00px;width:8.00px;height:1.00px;background:#000040"></div>
<div style="left:54.00px;top:620.00px;width:8.50px;height:5.00px;background:#0000cc;border:0.8px solid #000088;box-sizing:border-box"></div>
<div class="t" style="left:67.20px;top:620.30px;font-size:4.2px;line-height:5px;color:#222">Actual Work</div>
<div style="left:37.00px;top:629.00px;width:9.00px;height:5.00px;background:#e00000;border:0.8px solid #800000;box-sizing:border-box"></div>
<div style="left:46.00px;top:631.00px;width:8.00px;height:1.00px;background:#401000"></div>
<div style="left:54.00px;top:629.00px;width:8.50px;height:5.00px;background:#e00000;border:0.8px solid #800000;box-sizing:border-box"></div>
<div class="t" style="left:67.20px;top:629.30px;font-size:4.2px;line-height:5px;color:#222">Critical Remaining Work</div>
<div style="left:37.00px;top:638.00px;width:9.00px;height:5.00px;background:#8ef58e;border:0.8px solid #2e6e2e;box-sizing:border-box"></div>
<div style="left:46.00px;top:640.00px;width:8.00px;height:1.00px;background:#203820"></div>
<div style="left:54.00px;top:638.00px;width:8.50px;height:5.00px;background:#8ef58e;border:0.8px solid #2e6e2e;box-sizing:border-box"></div>
<div class="t" style="left:67.20px;top:638.30px;font-size:4.2px;line-height:5px;color:#222">Remaining Work</div>
<div class="t" style="left:194.50px;top:619.00px;width:381.00px;text-align:center;font-size:9.68px;line-height:11px;font-weight:bold;color:#111">Central Kowloon Route - Kai Tak East (Month 53 Update) (Rev44- CSD)</div>
<div class="t" style="left:194.50px;top:631.00px;width:381.00px;text-align:center;font-size:9.68px;line-height:11px;font-weight:bold;color:#111">Three Month Rolling Programme</div>
<div class="t" style="left:582.40px;top:611.80px;font-size:5.44px;line-height:6.5px;color:#222">Project ID: KTE-WP44_M53</div>
<div class="t" style="left:582.40px;top:621.00px;font-size:5.44px;line-height:6.5px;color:#222">Baseline:</div>
<div class="t" style="left:582.40px;top:630.20px;font-size:5.44px;line-height:6.5px;color:#222">Layout: KTE - 3 Months Rolling Programme</div>
<div class="t" style="left:582.40px;top:639.40px;font-size:5.44px;line-height:6.5px;color:#222">Filter: TASK filters: 3 Months Rolling_1, KTE - Submission.</div>
<div class="t" style="left:582.40px;top:656.80px;font-size:5.44px;line-height:6.5px;color:#222">Page 3 of 20</div>
<div style="left:763.50px;top:612.90px;width:182.00px;height:0.90px;background:#444"></div>
<div style="left:763.50px;top:620.10px;width:182.00px;height:0.90px;background:#444"></div>
<div style="left:763.50px;top:627.30px;width:182.00px;height:0.90px;background:#444"></div>
<div style="left:763.50px;top:634.50px;width:182.00px;height:0.90px;background:#444"></div>
<div style="left:763.50px;top:641.70px;width:182.00px;height:0.90px;background:#444"></div>
<div style="left:763.50px;top:648.90px;width:182.00px;height:0.90px;background:#444"></div>
<div style="left:763.50px;top:656.10px;width:182.00px;height:0.90px;background:#444"></div>
<div style="left:795.60px;top:607.00px;width:0.90px;height:49.50px;background:#444"></div>
<div style="left:891.40px;top:607.00px;width:0.90px;height:49.50px;background:#444"></div>
<div style="left:917.00px;top:607.00px;width:0.90px;height:49.50px;background:#444"></div>
<div class="t" style="left:763.50px;top:607.00px;width:32.50px;text-align:center;font-size:4.9px;line-height:5px;color:#222;transform:scaleX(0.88);transform-origin:50% 0">Date</div>
<div class="t" style="left:796.00px;top:607.00px;width:95.80px;text-align:center;font-size:4.9px;line-height:5px;color:#222;transform:scaleX(0.88);transform-origin:50% 0">Revision</div>
<div class="t" style="left:891.80px;top:607.00px;width:25.60px;text-align:center;font-size:4.9px;line-height:5px;color:#222;transform:scaleX(0.88);transform-origin:50% 0">Checked</div>
<div class="t" style="left:917.40px;top:607.00px;width:28.10px;text-align:center;font-size:4.9px;line-height:5px;color:#222;transform:scaleX(0.88);transform-origin:50% 0">Approved</div>
<div class="t" style="left:765.50px;top:614.30px;font-size:4.9px;line-height:5px;color:#222;transform:scaleX(0.88);transform-origin:0 0">20-Mar-23</div>
<div class="t" style="left:797.50px;top:614.30px;font-size:4.9px;line-height:5px;color:#222;transform:scaleX(0.88);transform-origin:0 0">Submit CSD Programme Rev 38with M47 Mon...</div>
<div class="t" style="left:893.50px;top:614.30px;font-size:4.9px;line-height:5px;color:#222;transform:scaleX(0.88);transform-origin:0 0">TYY</div>
<div class="t" style="left:919.00px;top:614.30px;font-size:4.9px;line-height:5px;color:#222;transform:scaleX(0.88);transform-origin:0 0">DC</div>
<div class="t" style="left:765.50px;top:621.50px;font-size:4.9px;line-height:5px;color:#222;transform:scaleX(0.88);transform-origin:0 0">25-May-23</div>
<div class="t" style="left:797.50px;top:621.50px;font-size:4.9px;line-height:5px;color:#222;transform:scaleX(0.88);transform-origin:0 0">Submit CSD Programme Rev 39with M48/49 ...</div>
<div class="t" style="left:893.50px;top:621.50px;font-size:4.9px;line-height:5px;color:#222;transform:scaleX(0.88);transform-origin:0 0">TYY</div>
<div class="t" style="left:919.00px;top:621.50px;font-size:4.9px;line-height:5px;color:#222;transform:scaleX(0.88);transform-origin:0 0">DC</div>
<div class="t" style="left:765.50px;top:628.70px;font-size:4.9px;line-height:5px;color:#222;transform:scaleX(0.88);transform-origin:0 0">20-Jun-23</div>
<div class="t" style="left:797.50px;top:628.70px;font-size:4.9px;line-height:5px;color:#222;transform:scaleX(0.88);transform-origin:0 0">Submit CSD Programme Rev 40with M50 Mon...</div>
<div class="t" style="left:893.50px;top:628.70px;font-size:4.9px;line-height:5px;color:#222;transform:scaleX(0.88);transform-origin:0 0">TYY</div>
<div class="t" style="left:919.00px;top:628.70px;font-size:4.9px;line-height:5px;color:#222;transform:scaleX(0.88);transform-origin:0 0">DC</div>
<div class="t" style="left:765.50px;top:635.90px;font-size:4.9px;line-height:5px;color:#222;transform:scaleX(0.88);transform-origin:0 0">20-Aug-23</div>
<div class="t" style="left:797.50px;top:635.90px;font-size:4.9px;line-height:5px;color:#222;transform:scaleX(0.88);transform-origin:0 0">Submit CSD Programme Rev 43with M52 Mon...</div>
<div class="t" style="left:893.50px;top:635.90px;font-size:4.9px;line-height:5px;color:#222;transform:scaleX(0.88);transform-origin:0 0">TYY</div>
<div class="t" style="left:919.00px;top:635.90px;font-size:4.9px;line-height:5px;color:#222;transform:scaleX(0.88);transform-origin:0 0">DC</div>
<div class="t" style="left:765.50px;top:643.10px;font-size:4.9px;line-height:5px;color:#222;transform:scaleX(0.88);transform-origin:0 0">26-Sep-23</div>
<div class="t" style="left:797.50px;top:643.10px;font-size:4.9px;line-height:5px;color:#222;transform:scaleX(0.88);transform-origin:0 0">Submit CSD Programme Rev 44with M53 Mon...</div>
<div class="t" style="left:893.50px;top:643.10px;font-size:4.9px;line-height:5px;color:#222;transform:scaleX(0.88);transform-origin:0 0">TYY</div>
<div class="t" style="left:919.00px;top:643.10px;font-size:4.9px;line-height:5px;color:#222;transform:scaleX(0.88);transform-origin:0 0">DC</div>
</div></body></html>
